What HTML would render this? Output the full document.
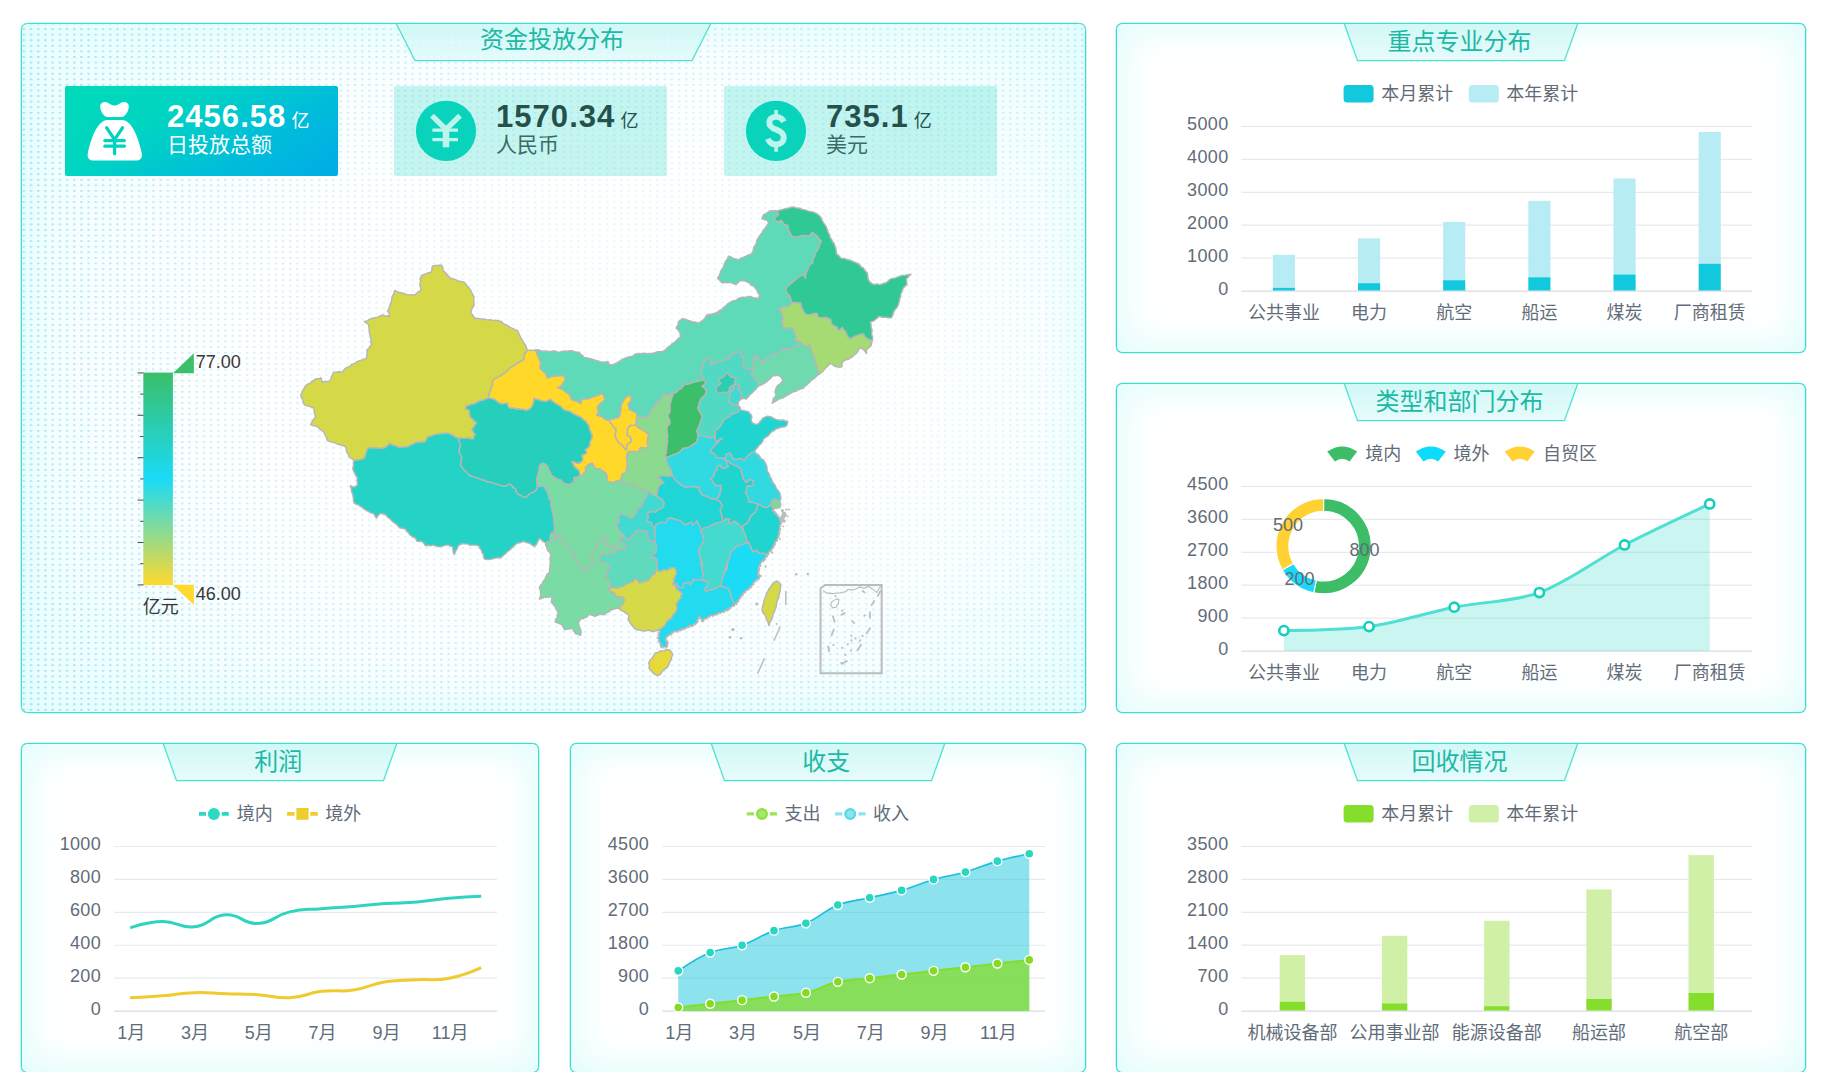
<!DOCTYPE html>
<html lang="zh"><head><meta charset="utf-8"><title>资金投放分布</title>
<style>
html,body{margin:0;padding:0;background:#fff;}
body{width:1843px;height:1072px;overflow:hidden;position:relative;font-family:"Liberation Sans","Noto Sans CJK SC",sans-serif;}
.panel{position:absolute;box-sizing:border-box;border:1px solid #3cdecc;border-radius:6.5px;background:#fff;box-shadow:inset 0 0 38px 6px #e0fdfc,0 0 0 .3px #3cdecc;overflow:hidden;}
.ttl{position:absolute;top:0;height:38px;}
.ttl span{position:absolute;left:0;right:3px;top:0;height:38px;line-height:37px;text-align:center;font-size:24px;color:#1db9a6;white-space:nowrap;}
svg{position:absolute;left:0;top:0;overflow:visible;}
svg text{font-family:"Liberation Sans","Noto Sans CJK SC",sans-serif;}
.card{position:absolute;top:86px;width:273px;height:90px;border-radius:2px;}
.num{position:absolute;left:102px;top:11px;font-size:31px;font-weight:bold;line-height:40px;white-space:nowrap;letter-spacing:1.05px}
.num small{font-size:18px;font-weight:normal;letter-spacing:0;margin-left:5px;}
.lab{position:absolute;left:102px;top:44px;font-size:21px;line-height:30px;white-space:nowrap;}
</style></head><body>

<div class="panel" id="p1" style="left:21.0px;top:23.0px;width:1065.0px;height:690.0px;background:radial-gradient(ellipse 60% 64% at 52% 50%,#fff 0%,#fff 52%,#fafeff 72%,#f3fefe 90%,#eefefe 100%)"></div>
<div class="panel" id="p2" style="left:1116.0px;top:23.0px;width:690.0px;height:330.0px"></div>
<div class="panel" id="p3" style="left:1116.0px;top:383.0px;width:690.0px;height:330.0px"></div>
<div class="panel" id="p4" style="left:21.0px;top:743.0px;width:517.5px;height:330.0px"></div>
<div class="panel" id="p5" style="left:569.5px;top:743.0px;width:516.5px;height:330.0px"></div>
<div class="panel" id="p6" style="left:1116.0px;top:743.0px;width:690.0px;height:330.0px"></div>
<svg width="1063" height="688" viewBox="0 0 1063 688" style="position:absolute;left:22px;top:24px;border-radius:5.5px;overflow:hidden">
<defs>
<pattern id="dots" x="0.6" y="4.2" width="7.2" height="5.58" patternUnits="userSpaceOnUse"><rect x="0" y="0" width="2.5" height="1.7" rx=".8" fill="#7fd9f6"/></pattern>
<linearGradient id="dmh" x1="0" x2="1" y1="0" y2="0"><stop offset="0" stop-color="#fff" stop-opacity=".7"/><stop offset=".12" stop-color="#fff" stop-opacity=".45"/><stop offset=".3" stop-color="#fff" stop-opacity=".16"/><stop offset=".5" stop-color="#fff" stop-opacity="0"/><stop offset=".85" stop-color="#fff" stop-opacity=".04"/><stop offset="1" stop-color="#fff" stop-opacity=".2"/></linearGradient>
<linearGradient id="dmv" x1="0" x2="0" y1="0" y2="1"><stop offset="0" stop-color="#fff" stop-opacity=".38"/><stop offset=".2" stop-color="#fff" stop-opacity=".12"/><stop offset=".5" stop-color="#fff" stop-opacity="0"/><stop offset=".8" stop-color="#fff" stop-opacity=".12"/><stop offset="1" stop-color="#fff" stop-opacity=".5"/></linearGradient>
<mask id="dmask"><rect width="1063" height="688" fill="#fff" fill-opacity=".17"/><rect width="1063" height="688" fill="url(#dmh)"/><rect width="1063" height="688" fill="url(#dmv)"/></mask>
</defs>
<rect width="1063" height="688" fill="url(#dots)" mask="url(#dmask)"/>
</svg>
<div style="position:absolute;left:21.0px;top:23.0px;width:1065.0px;height:40px"><div class="ttl" style="left:375.0px;width:315.0px"><svg width="315.0" height="40"><defs><linearGradient id="tg_资金投放分布" x1="0" x2="0" y1="0" y2="1"><stop offset="0" stop-color="#cdf7f5"/><stop offset="1" stop-color="#e2fbfa"/></linearGradient></defs><polygon points="0.5,1 314.5,1 296.0,37.6 19.0,37.6" fill="url(#tg_资金投放分布)" fill-opacity=".85" stroke="none"/><polyline points="0.3,0.8 19.0,37.6 296.0,37.6 314.7,0.8" fill="none" stroke="#4fe2d2" stroke-width="1.3" stroke-linejoin="miter"/></svg><span style="line-height:34px">资金投放分布</span></div></div>
<div style="position:absolute;left:1116.0px;top:23.0px;width:690.0px;height:40px"><div class="ttl" style="left:228.0px;width:234.0px"><svg width="234.0" height="40"><defs><linearGradient id="tg_重点专业分布" x1="0" x2="0" y1="0" y2="1"><stop offset="0" stop-color="#cdf7f5"/><stop offset="1" stop-color="#e2fbfa"/></linearGradient></defs><polygon points="0.5,1 233.5,1 220.5,37.6 13.5,37.6" fill="url(#tg_重点专业分布)" fill-opacity=".85" stroke="none"/><polyline points="0.3,0.8 13.5,37.6 220.5,37.6 233.7,0.8" fill="none" stroke="#4fe2d2" stroke-width="1.3" stroke-linejoin="miter"/></svg><span style="line-height:37px">重点专业分布</span></div></div>
<div style="position:absolute;left:1116.0px;top:383.0px;width:690.0px;height:40px"><div class="ttl" style="left:228.0px;width:234.0px"><svg width="234.0" height="40"><defs><linearGradient id="tg_类型和部门分布" x1="0" x2="0" y1="0" y2="1"><stop offset="0" stop-color="#cdf7f5"/><stop offset="1" stop-color="#e2fbfa"/></linearGradient></defs><polygon points="0.5,1 233.5,1 220.5,37.6 13.5,37.6" fill="url(#tg_类型和部门分布)" fill-opacity=".85" stroke="none"/><polyline points="0.3,0.8 13.5,37.6 220.5,37.6 233.7,0.8" fill="none" stroke="#4fe2d2" stroke-width="1.3" stroke-linejoin="miter"/></svg><span style="line-height:37px">类型和部门分布</span></div></div>
<div style="position:absolute;left:21.0px;top:743.0px;width:517.5px;height:40px"><div class="ttl" style="left:141.8px;width:234.0px"><svg width="234.0" height="40"><defs><linearGradient id="tg_利润" x1="0" x2="0" y1="0" y2="1"><stop offset="0" stop-color="#cdf7f5"/><stop offset="1" stop-color="#e2fbfa"/></linearGradient></defs><polygon points="0.5,1 233.5,1 220.5,37.6 13.5,37.6" fill="url(#tg_利润)" fill-opacity=".85" stroke="none"/><polyline points="0.3,0.8 13.5,37.6 220.5,37.6 233.7,0.8" fill="none" stroke="#4fe2d2" stroke-width="1.3" stroke-linejoin="miter"/></svg><span style="line-height:37px">利润</span></div></div>
<div style="position:absolute;left:569.5px;top:743.0px;width:516.5px;height:40px"><div class="ttl" style="left:141.2px;width:234.0px"><svg width="234.0" height="40"><defs><linearGradient id="tg_收支" x1="0" x2="0" y1="0" y2="1"><stop offset="0" stop-color="#cdf7f5"/><stop offset="1" stop-color="#e2fbfa"/></linearGradient></defs><polygon points="0.5,1 233.5,1 220.5,37.6 13.5,37.6" fill="url(#tg_收支)" fill-opacity=".85" stroke="none"/><polyline points="0.3,0.8 13.5,37.6 220.5,37.6 233.7,0.8" fill="none" stroke="#4fe2d2" stroke-width="1.3" stroke-linejoin="miter"/></svg><span style="line-height:37px">收支</span></div></div>
<div style="position:absolute;left:1116.0px;top:743.0px;width:690.0px;height:40px"><div class="ttl" style="left:228.0px;width:234.0px"><svg width="234.0" height="40"><defs><linearGradient id="tg_回收情况" x1="0" x2="0" y1="0" y2="1"><stop offset="0" stop-color="#cdf7f5"/><stop offset="1" stop-color="#e2fbfa"/></linearGradient></defs><polygon points="0.5,1 233.5,1 220.5,37.6 13.5,37.6" fill="url(#tg_回收情况)" fill-opacity=".85" stroke="none"/><polyline points="0.3,0.8 13.5,37.6 220.5,37.6 233.7,0.8" fill="none" stroke="#4fe2d2" stroke-width="1.3" stroke-linejoin="miter"/></svg><span style="line-height:37px">回收情况</span></div></div>

<div class="card" style="left:65px;background:linear-gradient(146deg,#00dab9 0%,#00d5c1 33%,#00bed9 67%,#00ace8 100%);color:#fff">
<svg width="273" height="90" viewBox="65 86 273 90"><g fill="#fff">
<path d="M100.2 106.5c0-3.2 2.3-4.8 5.2-4.6 3.2.3 5.6 3.6 9.1 3.6s5.900-3.3 9.100-3.600c2.900-.2 5.200 1.400 5.200 4.600 0 4.200-3.500 10.600-7.200 10.600h-14.200c-3.700 0-7.200-6.400-7.200-10.600z"/>
<path d="M107.500 120h14.600c9.500 0 16.500 17.500 19.700 33.500 .9 4.500-1.600 7-5.600 7h-42.800c-4 0-6.500-2.500-5.600-7 3.200-16 10.200-33.500 19.700-33.500z"/></g>
<g fill="none" stroke="#02d2c0" stroke-width="3.3" stroke-linecap="round" stroke-linejoin="round"><path d="M106.700 127.800L114.600 139.600L122.500 127.800M114.600 139.600V153.800M104.800 140.600H124.400M104.800 146.200H124.400"/></g></svg>
<div class="num">2456.58<small>亿</small></div><div class="lab">日投放总额</div></div>

<div class="card" style="left:394px;background:rgba(30,215,195,.255);color:#25514c">
<svg width="273" height="90"><circle cx="52" cy="44.900" r="30.1" fill="#0ad3bb"/><g fill="none" stroke="#bdf4ee" stroke-width="5.2" stroke-linejoin="miter"><path d="M38 29.600L52 43.500L66 29.600" stroke-width="5.400"/><path d="M52 41V61.300" stroke-width="6.500"/><path d="M38.400 44.200H64M38.400 53.700H64" stroke-width="3.300"/></g></svg>
<div class="num">1570.34<small>亿</small></div><div class="lab" style="color:#3a6b66">人民币</div></div>
<div class="card" style="left:724px;background:rgba(30,215,195,.255);color:#25514c">
<svg width="273" height="90"><circle cx="52" cy="44.900" r="30.1" fill="#0ad3bb"/><g fill="none" stroke="#bdf4ee"><path d="M59.800 35.800C58.400 32.600 55.600 30.900 52.100 30.900 48.300 30.900 45.300 33 45.300 36.700 45.300 40.700 48.500 42.200 52.100 43.600 56.200 45.200 59.800 47 59.800 51.300 59.800 55.800 56.300 58.500 52.100 58.500 48.300 58.500 45.400 56.600 43.800 52.900" stroke-width="5.900"/><path d="M52.100 24V30M52.100 59.500V65.800" stroke-width="3.600"/></g></svg>
<div class="num">735.1<small>亿</small></div><div class="lab" style="color:#3a6b66">美元</div></div>
<svg width="1843" height="1072" viewBox="0 0 1843 1072"><g>
<line x1="1241.3" x2="1752.3" y1="291.10" y2="291.10" stroke="#d9dce0" stroke-width="1.2"/>
<text x="1228.5" y="294.8" font-size="18" text-anchor="end" fill="#626c78" letter-spacing=".35">0</text>
<line x1="1241.3" x2="1752.3" y1="258.16" y2="258.16" stroke="#e6e9ed" stroke-width="1.2"/>
<text x="1228.5" y="261.9" font-size="18" text-anchor="end" fill="#626c78" letter-spacing=".35">1000</text>
<line x1="1241.3" x2="1752.3" y1="225.22" y2="225.22" stroke="#e6e9ed" stroke-width="1.2"/>
<text x="1228.5" y="228.9" font-size="18" text-anchor="end" fill="#626c78" letter-spacing=".35">2000</text>
<line x1="1241.3" x2="1752.3" y1="192.28" y2="192.28" stroke="#e6e9ed" stroke-width="1.2"/>
<text x="1228.5" y="196.0" font-size="18" text-anchor="end" fill="#626c78" letter-spacing=".35">3000</text>
<line x1="1241.3" x2="1752.3" y1="159.34" y2="159.34" stroke="#e6e9ed" stroke-width="1.2"/>
<text x="1228.5" y="163.0" font-size="18" text-anchor="end" fill="#626c78" letter-spacing=".35">4000</text>
<line x1="1241.3" x2="1752.3" y1="126.40" y2="126.40" stroke="#e6e9ed" stroke-width="1.2"/>
<text x="1228.5" y="130.1" font-size="18" text-anchor="end" fill="#626c78" letter-spacing=".35">5000</text>
<text x="1283.9" y="318.7" font-size="18" text-anchor="middle" fill="#626c78" >公共事业</text>
<text x="1369.0" y="318.7" font-size="18" text-anchor="middle" fill="#626c78" >电力</text>
<text x="1454.2" y="318.7" font-size="18" text-anchor="middle" fill="#626c78" >航空</text>
<text x="1539.4" y="318.7" font-size="18" text-anchor="middle" fill="#626c78" >船运</text>
<text x="1624.5" y="318.7" font-size="18" text-anchor="middle" fill="#626c78" >煤炭</text>
<text x="1709.7" y="318.7" font-size="18" text-anchor="middle" fill="#626c78" >厂商租赁</text>
<rect x="1272.81" y="254.87" width="22.14" height="32.94" fill="#b7ecf4"/>
<rect x="1272.81" y="287.81" width="22.14" height="2.69" fill="#12c8dc"/>
<rect x="1357.98" y="238.40" width="22.14" height="44.80" fill="#b7ecf4"/>
<rect x="1357.98" y="283.19" width="22.14" height="7.31" fill="#12c8dc"/>
<rect x="1443.14" y="221.93" width="22.14" height="58.30" fill="#b7ecf4"/>
<rect x="1443.14" y="280.23" width="22.14" height="10.27" fill="#12c8dc"/>
<rect x="1528.31" y="200.84" width="22.14" height="76.42" fill="#b7ecf4"/>
<rect x="1528.31" y="277.27" width="22.14" height="13.23" fill="#12c8dc"/>
<rect x="1613.48" y="178.45" width="22.14" height="96.02" fill="#b7ecf4"/>
<rect x="1613.48" y="274.47" width="22.14" height="16.03" fill="#12c8dc"/>
<rect x="1698.64" y="132.00" width="22.14" height="131.76" fill="#b7ecf4"/>
<rect x="1698.64" y="263.76" width="22.14" height="26.74" fill="#12c8dc"/>
<rect x="1343.6" y="85.1" width="30" height="17.4" rx="3.5" fill="#12c8dc"/>
<text x="1381.2" y="99.7" font-size="18" text-anchor="start" fill="#626c78" >本月累计</text>
<rect x="1468.8" y="85.1" width="30" height="17.4" rx="3.5" fill="#b7ecf4"/>
<text x="1506.2" y="99.7" font-size="18" text-anchor="start" fill="#626c78" >本年累计</text>
</g>
<g>
<line x1="1241.3" x2="1752.3" y1="1011.10" y2="1011.10" stroke="#d9dce0" stroke-width="1.2"/>
<text x="1228.5" y="1014.8" font-size="18" text-anchor="end" fill="#626c78" letter-spacing=".35">0</text>
<line x1="1241.3" x2="1752.3" y1="978.16" y2="978.16" stroke="#e6e9ed" stroke-width="1.2"/>
<text x="1228.5" y="981.9" font-size="18" text-anchor="end" fill="#626c78" letter-spacing=".35">700</text>
<line x1="1241.3" x2="1752.3" y1="945.22" y2="945.22" stroke="#e6e9ed" stroke-width="1.2"/>
<text x="1228.5" y="948.9" font-size="18" text-anchor="end" fill="#626c78" letter-spacing=".35">1400</text>
<line x1="1241.3" x2="1752.3" y1="912.28" y2="912.28" stroke="#e6e9ed" stroke-width="1.2"/>
<text x="1228.5" y="916.0" font-size="18" text-anchor="end" fill="#626c78" letter-spacing=".35">2100</text>
<line x1="1241.3" x2="1752.3" y1="879.34" y2="879.34" stroke="#e6e9ed" stroke-width="1.2"/>
<text x="1228.5" y="883.0" font-size="18" text-anchor="end" fill="#626c78" letter-spacing=".35">2800</text>
<line x1="1241.3" x2="1752.3" y1="846.40" y2="846.40" stroke="#e6e9ed" stroke-width="1.2"/>
<text x="1228.5" y="850.1" font-size="18" text-anchor="end" fill="#626c78" letter-spacing=".35">3500</text>
<text x="1292.4" y="1038.7" font-size="18" text-anchor="middle" fill="#626c78" >机械设备部</text>
<text x="1394.6" y="1038.7" font-size="18" text-anchor="middle" fill="#626c78" >公用事业部</text>
<text x="1496.8" y="1038.7" font-size="18" text-anchor="middle" fill="#626c78" >能源设备部</text>
<text x="1599.0" y="1038.7" font-size="18" text-anchor="middle" fill="#626c78" >船运部</text>
<text x="1701.2" y="1038.7" font-size="18" text-anchor="middle" fill="#626c78" >航空部</text>
<rect x="1279.70" y="955.10" width="25.40" height="46.59" fill="#d0f0a8"/>
<rect x="1279.70" y="1001.69" width="25.40" height="8.81" fill="#86de2c"/>
<rect x="1381.90" y="935.81" width="25.40" height="67.53" fill="#d0f0a8"/>
<rect x="1381.90" y="1003.34" width="25.40" height="7.16" fill="#86de2c"/>
<rect x="1484.10" y="920.75" width="25.40" height="85.41" fill="#d0f0a8"/>
<rect x="1484.10" y="1006.16" width="25.40" height="4.34" fill="#86de2c"/>
<rect x="1586.30" y="889.46" width="25.40" height="109.50" fill="#d0f0a8"/>
<rect x="1586.30" y="998.96" width="25.40" height="11.54" fill="#86de2c"/>
<rect x="1688.50" y="855.11" width="25.40" height="137.88" fill="#d0f0a8"/>
<rect x="1688.50" y="992.98" width="25.40" height="17.52" fill="#86de2c"/>
<rect x="1343.6" y="805.1" width="30" height="17.4" rx="3.5" fill="#86de2c"/>
<text x="1381.2" y="819.7" font-size="18" text-anchor="start" fill="#626c78" >本月累计</text>
<rect x="1468.8" y="805.1" width="30" height="17.4" rx="3.5" fill="#d0f0a8"/>
<text x="1506.2" y="819.7" font-size="18" text-anchor="start" fill="#626c78" >本年累计</text>
</g>
<line x1="1241.3" x2="1752.3" y1="651.10" y2="651.10" stroke="#d9dce0" stroke-width="1.2"/>
<text x="1228.5" y="654.8" font-size="18" text-anchor="end" fill="#626c78" letter-spacing=".35">0</text>
<line x1="1241.3" x2="1752.3" y1="618.16" y2="618.16" stroke="#e6e9ed" stroke-width="1.2"/>
<text x="1228.5" y="621.9" font-size="18" text-anchor="end" fill="#626c78" letter-spacing=".35">900</text>
<line x1="1241.3" x2="1752.3" y1="585.22" y2="585.22" stroke="#e6e9ed" stroke-width="1.2"/>
<text x="1228.5" y="588.9" font-size="18" text-anchor="end" fill="#626c78" letter-spacing=".35">1800</text>
<line x1="1241.3" x2="1752.3" y1="552.28" y2="552.28" stroke="#e6e9ed" stroke-width="1.2"/>
<text x="1228.5" y="556.0" font-size="18" text-anchor="end" fill="#626c78" letter-spacing=".35">2700</text>
<line x1="1241.3" x2="1752.3" y1="519.34" y2="519.34" stroke="#e6e9ed" stroke-width="1.2"/>
<text x="1228.5" y="523.0" font-size="18" text-anchor="end" fill="#626c78" letter-spacing=".35">3600</text>
<line x1="1241.3" x2="1752.3" y1="486.40" y2="486.40" stroke="#e6e9ed" stroke-width="1.2"/>
<text x="1228.5" y="490.1" font-size="18" text-anchor="end" fill="#626c78" letter-spacing=".35">4500</text>
<text x="1283.9" y="678.7" font-size="18" text-anchor="middle" fill="#626c78" >公共事业</text>
<text x="1369.0" y="678.7" font-size="18" text-anchor="middle" fill="#626c78" >电力</text>
<text x="1454.2" y="678.7" font-size="18" text-anchor="middle" fill="#626c78" >航空</text>
<text x="1539.4" y="678.7" font-size="18" text-anchor="middle" fill="#626c78" >船运</text>
<text x="1624.5" y="678.7" font-size="18" text-anchor="middle" fill="#626c78" >煤炭</text>
<text x="1709.7" y="678.7" font-size="18" text-anchor="middle" fill="#626c78" >厂商租赁</text>
<path d="M1283.88 630.60 C1283.88 630.60 1342.13 630.28 1369.05 626.58 C1396.63 622.78 1426.82 612.66 1454.22 607.18 C1481.32 601.76 1513.78 601.89 1539.38 592.54 C1568.29 581.98 1596.87 559.36 1624.55 544.96 C1651.37 531.01 1709.72 503.97 1709.72 503.97 L1709.72 651.10 L1283.88 651.10 Z" fill="#4fded0" fill-opacity=".3"/>
<path d="M1283.88 630.60 C1283.88 630.60 1342.13 630.28 1369.05 626.58 C1396.63 622.78 1426.82 612.66 1454.22 607.18 C1481.32 601.76 1513.78 601.89 1539.38 592.54 C1568.29 581.98 1596.87 559.36 1624.55 544.96 C1651.37 531.01 1709.72 503.97 1709.72 503.97" fill="none" stroke="#4fe0d2" stroke-width="3"/>
<circle cx="1283.88" cy="630.60" r="4.6" fill="#fff" stroke="#14cfba" stroke-width="2.6"/>
<circle cx="1369.05" cy="626.58" r="4.6" fill="#fff" stroke="#14cfba" stroke-width="2.6"/>
<circle cx="1454.22" cy="607.18" r="4.6" fill="#fff" stroke="#14cfba" stroke-width="2.6"/>
<circle cx="1539.38" cy="592.54" r="4.6" fill="#fff" stroke="#14cfba" stroke-width="2.6"/>
<circle cx="1624.55" cy="544.96" r="4.6" fill="#fff" stroke="#14cfba" stroke-width="2.6"/>
<circle cx="1709.72" cy="503.97" r="4.6" fill="#fff" stroke="#14cfba" stroke-width="2.6"/>
<path d="M1323.60 498.40 A47.70 47.70 0 1 1 1313.68 592.76 L1316.36 580.14 A34.80 34.80 0 1 0 1323.60 511.30 Z" fill="#3dbd67" stroke="#fff" stroke-width="1.1"/>
<path d="M1313.68 592.76 A47.70 47.70 0 0 1 1282.29 569.95 L1293.46 563.50 A34.80 34.80 0 0 0 1316.36 580.14 Z" fill="#19d9f7" stroke="#fff" stroke-width="1.1"/>
<path d="M1282.29 569.95 A47.70 47.70 0 0 1 1323.60 498.40 L1323.60 511.30 A34.80 34.80 0 0 0 1293.46 563.50 Z" fill="#ffd133" stroke="#fff" stroke-width="1.1"/>
<text x="1364.6" y="555.7" font-size="18" text-anchor="middle" fill="#626c78" >800</text>
<text x="1299.4" y="584.8" font-size="18" text-anchor="middle" fill="#626c78" >200</text>
<text x="1287.9" y="530.8" font-size="18" text-anchor="middle" fill="#626c78" >500</text>
<path d="M1327.20 451.60 Q1342.20 441.20 1357.20 451.60 L1349.50 461.40 Q1342.20 456.20 1334.90 461.40 Z" fill="#3dbd67"/>
<text x="1365.2" y="459.7" font-size="18" text-anchor="start" fill="#626c78" >境内</text>
<path d="M1415.80 451.60 Q1430.80 441.20 1445.80 451.60 L1438.10 461.40 Q1430.80 456.20 1423.50 461.40 Z" fill="#0cdcfb"/>
<text x="1453.6" y="459.7" font-size="18" text-anchor="start" fill="#626c78" >境外</text>
<path d="M1504.80 451.60 Q1519.80 441.20 1534.80 451.60 L1527.10 461.40 Q1519.80 456.20 1512.50 461.40 Z" fill="#ffd133"/>
<text x="1543.0" y="459.7" font-size="18" text-anchor="start" fill="#626c78" >自贸区</text>
<line x1="114.2" x2="497.1" y1="1011.10" y2="1011.10" stroke="#d9dce0" stroke-width="1.2"/>
<text x="101.1" y="1014.8" font-size="18" text-anchor="end" fill="#626c78" letter-spacing=".35">0</text>
<line x1="114.2" x2="497.1" y1="978.18" y2="978.18" stroke="#e6e9ed" stroke-width="1.2"/>
<text x="101.1" y="981.9" font-size="18" text-anchor="end" fill="#626c78" letter-spacing=".35">200</text>
<line x1="114.2" x2="497.1" y1="945.26" y2="945.26" stroke="#e6e9ed" stroke-width="1.2"/>
<text x="101.1" y="949.0" font-size="18" text-anchor="end" fill="#626c78" letter-spacing=".35">400</text>
<line x1="114.2" x2="497.1" y1="912.34" y2="912.34" stroke="#e6e9ed" stroke-width="1.2"/>
<text x="101.1" y="916.0" font-size="18" text-anchor="end" fill="#626c78" letter-spacing=".35">600</text>
<line x1="114.2" x2="497.1" y1="879.42" y2="879.42" stroke="#e6e9ed" stroke-width="1.2"/>
<text x="101.1" y="883.1" font-size="18" text-anchor="end" fill="#626c78" letter-spacing=".35">800</text>
<line x1="114.2" x2="497.1" y1="846.50" y2="846.50" stroke="#e6e9ed" stroke-width="1.2"/>
<text x="101.1" y="850.2" font-size="18" text-anchor="end" fill="#626c78" letter-spacing=".35">1000</text>
<text x="131.2" y="1038.7" font-size="18" text-anchor="middle" fill="#626c78" >1月</text>
<text x="195.0" y="1038.7" font-size="18" text-anchor="middle" fill="#626c78" >3月</text>
<text x="258.8" y="1038.7" font-size="18" text-anchor="middle" fill="#626c78" >5月</text>
<text x="322.6" y="1038.7" font-size="18" text-anchor="middle" fill="#626c78" >7月</text>
<text x="386.4" y="1038.7" font-size="18" text-anchor="middle" fill="#626c78" >9月</text>
<text x="450.2" y="1038.7" font-size="18" text-anchor="middle" fill="#626c78" >11月</text>
<path d="M130.15 927.98 C130.15 927.98 146.06 921.68 162.06 921.39 C177.96 921.11 178.43 928.43 193.97 926.82 C210.34 925.14 209.68 915.64 225.88 914.81 C241.59 914.00 242.05 924.26 257.79 923.53 C273.96 922.78 273.28 915.66 289.70 911.85 C305.19 908.25 305.63 910.08 321.60 908.72 C337.54 907.36 337.57 907.69 353.51 906.41 C369.48 905.14 369.45 904.73 385.42 903.62 C401.36 902.51 401.42 903.32 417.33 901.97 C433.33 900.61 433.24 899.63 449.24 898.18 C465.15 896.75 481.15 896.21 481.15 896.21" fill="none" stroke="#2dd4bf" stroke-width="3" stroke-linejoin="round"/>
<path d="M130.15 997.77 C130.15 997.77 146.13 997.07 162.06 995.79 C178.04 994.51 177.98 993.20 193.97 992.66 C209.89 992.13 209.93 993.16 225.88 993.65 C241.83 994.15 241.87 993.61 257.79 994.64 C273.78 995.67 273.86 998.58 289.70 997.77 C305.77 996.94 305.50 993.30 321.60 991.35 C337.41 989.43 337.81 992.38 353.51 990.03 C369.72 987.61 369.23 984.39 385.42 981.80 C401.13 979.29 401.37 980.73 417.33 979.83 C433.28 978.92 433.69 981.15 449.24 978.18 C465.59 975.06 481.15 967.65 481.15 967.65" fill="none" stroke="#efcb2f" stroke-width="3" stroke-linejoin="round"/>
<path d="M199 813.9H206M221.800 813.9H228.800" stroke="#2dd9c3" stroke-width="3.6"/><circle cx="213.900" cy="813.9" r="6" fill="#2dd9c3"/>
<text x="236.8" y="819.8" font-size="18" text-anchor="start" fill="#626c78" >境内</text>
<path d="M287 813.9H294.500M310.200 813.9H317.800" stroke="#efcd2f" stroke-width="3.6"/><rect x="296.400" y="808.0" width="12.2" height="11.8" fill="#efcd2f"/>
<text x="325.3" y="819.8" font-size="18" text-anchor="start" fill="#626c78" >境外</text>
<line x1="662.3" x2="1045.2" y1="1011.10" y2="1011.10" stroke="#d9dce0" stroke-width="1.2"/>
<text x="649.2" y="1014.8" font-size="18" text-anchor="end" fill="#626c78" letter-spacing=".35">0</text>
<line x1="662.3" x2="1045.2" y1="978.18" y2="978.18" stroke="#e6e9ed" stroke-width="1.2"/>
<text x="649.2" y="981.9" font-size="18" text-anchor="end" fill="#626c78" letter-spacing=".35">900</text>
<line x1="662.3" x2="1045.2" y1="945.26" y2="945.26" stroke="#e6e9ed" stroke-width="1.2"/>
<text x="649.2" y="949.0" font-size="18" text-anchor="end" fill="#626c78" letter-spacing=".35">1800</text>
<line x1="662.3" x2="1045.2" y1="912.34" y2="912.34" stroke="#e6e9ed" stroke-width="1.2"/>
<text x="649.2" y="916.0" font-size="18" text-anchor="end" fill="#626c78" letter-spacing=".35">2700</text>
<line x1="662.3" x2="1045.2" y1="879.42" y2="879.42" stroke="#e6e9ed" stroke-width="1.2"/>
<text x="649.2" y="883.1" font-size="18" text-anchor="end" fill="#626c78" letter-spacing=".35">3600</text>
<line x1="662.3" x2="1045.2" y1="846.50" y2="846.50" stroke="#e6e9ed" stroke-width="1.2"/>
<text x="649.2" y="850.2" font-size="18" text-anchor="end" fill="#626c78" letter-spacing=".35">4500</text>
<text x="679.3" y="1038.7" font-size="18" text-anchor="middle" fill="#626c78" >1月</text>
<text x="743.1" y="1038.7" font-size="18" text-anchor="middle" fill="#626c78" >3月</text>
<text x="806.9" y="1038.7" font-size="18" text-anchor="middle" fill="#626c78" >5月</text>
<text x="870.7" y="1038.7" font-size="18" text-anchor="middle" fill="#626c78" >7月</text>
<text x="934.5" y="1038.7" font-size="18" text-anchor="middle" fill="#626c78" >9月</text>
<text x="998.3" y="1038.7" font-size="18" text-anchor="middle" fill="#626c78" >11月</text>
<path d="M678.25 970.86 C678.25 970.86 698.35 957.32 710.16 952.58 C720.68 948.36 731.29 948.97 742.07 945.26 C753.63 941.29 762.42 934.60 773.98 930.63 C784.76 926.92 795.37 927.53 805.89 923.31 C817.70 918.57 825.98 909.77 837.80 905.02 C848.31 900.80 858.54 900.27 869.70 897.71 C880.87 895.15 890.61 893.55 901.61 890.39 C912.95 887.14 922.18 882.67 933.52 879.42 C944.52 876.27 954.43 875.26 965.43 872.10 C976.77 868.86 986.00 864.38 997.34 861.13 C1008.34 857.98 1029.25 853.82 1029.25 853.82 L1029.25 1011.10 L678.25 1011.10 Z" fill="#1bc8dc" fill-opacity=".5"/>
<path d="M678.25 970.86 C678.25 970.86 698.35 957.32 710.16 952.58 C720.68 948.36 731.29 948.97 742.07 945.26 C753.63 941.29 762.42 934.60 773.98 930.63 C784.76 926.92 795.37 927.53 805.89 923.31 C817.70 918.57 825.98 909.77 837.80 905.02 C848.31 900.80 858.54 900.27 869.70 897.71 C880.87 895.15 890.61 893.55 901.61 890.39 C912.95 887.14 922.18 882.67 933.52 879.42 C944.52 876.27 954.43 875.26 965.43 872.10 C976.77 868.86 986.00 864.38 997.34 861.13 C1008.34 857.98 1029.25 853.82 1029.25 853.82" fill="none" stroke="#1bbfdc" stroke-width="1.6"/>
<path d="M678.25 1007.44 C678.25 1007.44 698.99 1005.06 710.16 1003.78 C721.33 1002.50 730.90 1001.41 742.07 1000.13 C753.24 998.85 762.81 997.75 773.98 996.47 C785.15 995.19 795.00 995.31 805.89 992.81 C817.33 990.19 826.35 984.46 837.80 981.84 C848.69 979.34 858.54 979.46 869.70 978.18 C880.87 976.90 890.44 975.80 901.61 974.52 C912.78 973.24 922.35 972.14 933.52 970.86 C944.69 969.58 954.26 968.49 965.43 967.21 C976.60 965.93 986.17 964.83 997.34 963.55 C1008.51 962.27 1029.25 959.89 1029.25 959.89 L1029.25 1011.10 L678.25 1011.10 Z" fill="#84dc22" fill-opacity=".72"/>
<path d="M678.25 1007.44 C678.25 1007.44 698.99 1005.06 710.16 1003.78 C721.33 1002.50 730.90 1001.41 742.07 1000.13 C753.24 998.85 762.81 997.75 773.98 996.47 C785.15 995.19 795.00 995.31 805.89 992.81 C817.33 990.19 826.35 984.46 837.80 981.84 C848.69 979.34 858.54 979.46 869.70 978.18 C880.87 976.90 890.44 975.80 901.61 974.52 C912.78 973.24 922.35 972.14 933.52 970.86 C944.69 969.58 954.26 968.49 965.43 967.21 C976.60 965.93 986.17 964.83 997.34 963.55 C1008.51 962.27 1029.25 959.89 1029.25 959.89" fill="none" stroke="#84dc2b" stroke-width="2"/>
<circle cx="678.25" cy="970.86" r="4.5" fill="#27d7c0" stroke="#fff" stroke-width="1.4"/>
<circle cx="710.16" cy="952.58" r="4.5" fill="#27d7c0" stroke="#fff" stroke-width="1.4"/>
<circle cx="742.07" cy="945.26" r="4.5" fill="#27d7c0" stroke="#fff" stroke-width="1.4"/>
<circle cx="773.98" cy="930.63" r="4.5" fill="#27d7c0" stroke="#fff" stroke-width="1.4"/>
<circle cx="805.89" cy="923.31" r="4.5" fill="#27d7c0" stroke="#fff" stroke-width="1.4"/>
<circle cx="837.80" cy="905.02" r="4.5" fill="#27d7c0" stroke="#fff" stroke-width="1.4"/>
<circle cx="869.70" cy="897.71" r="4.5" fill="#27d7c0" stroke="#fff" stroke-width="1.4"/>
<circle cx="901.61" cy="890.39" r="4.5" fill="#27d7c0" stroke="#fff" stroke-width="1.4"/>
<circle cx="933.52" cy="879.42" r="4.5" fill="#27d7c0" stroke="#fff" stroke-width="1.4"/>
<circle cx="965.43" cy="872.10" r="4.5" fill="#27d7c0" stroke="#fff" stroke-width="1.4"/>
<circle cx="997.34" cy="861.13" r="4.5" fill="#27d7c0" stroke="#fff" stroke-width="1.4"/>
<circle cx="1029.25" cy="853.82" r="4.5" fill="#27d7c0" stroke="#fff" stroke-width="1.4"/>
<circle cx="678.25" cy="1007.44" r="4.5" fill="#84dc22" stroke="#fff" stroke-width="1.4"/>
<circle cx="710.16" cy="1003.78" r="4.5" fill="#84dc22" stroke="#fff" stroke-width="1.4"/>
<circle cx="742.07" cy="1000.13" r="4.5" fill="#84dc22" stroke="#fff" stroke-width="1.4"/>
<circle cx="773.98" cy="996.47" r="4.5" fill="#84dc22" stroke="#fff" stroke-width="1.4"/>
<circle cx="805.89" cy="992.81" r="4.5" fill="#84dc22" stroke="#fff" stroke-width="1.4"/>
<circle cx="837.80" cy="981.84" r="4.5" fill="#84dc22" stroke="#fff" stroke-width="1.4"/>
<circle cx="869.70" cy="978.18" r="4.5" fill="#84dc22" stroke="#fff" stroke-width="1.4"/>
<circle cx="901.61" cy="974.52" r="4.5" fill="#84dc22" stroke="#fff" stroke-width="1.4"/>
<circle cx="933.52" cy="970.86" r="4.5" fill="#84dc22" stroke="#fff" stroke-width="1.4"/>
<circle cx="965.43" cy="967.21" r="4.5" fill="#84dc22" stroke="#fff" stroke-width="1.4"/>
<circle cx="997.34" cy="963.55" r="4.5" fill="#84dc22" stroke="#fff" stroke-width="1.4"/>
<circle cx="1029.25" cy="959.89" r="4.5" fill="#84dc22" stroke="#fff" stroke-width="1.4"/>
<path d="M746.800 813.9H753.900M769.900 813.9H776.900" stroke="#9be34f" stroke-width="3.4"/><circle cx="762" cy="813.9" r="4.8" fill="#a6e66a" stroke="#8fe03f" stroke-width="2.4"/>
<text x="784.6" y="819.8" font-size="18" text-anchor="start" fill="#626c78" >支出</text>
<path d="M835 813.9H842.300M858.400 813.9H865.600" stroke="#8fe3ee" stroke-width="3.4"/><circle cx="850.200" cy="813.9" r="4.8" fill="#8de5ef" stroke="#55d9e8" stroke-width="2.4"/>
<text x="873.1" y="819.8" font-size="18" text-anchor="start" fill="#626c78" >收入</text></svg>
<svg width="1843" height="1072" viewBox="0 0 1843 1072" style="position:absolute;left:0;top:0"><g stroke="#b6b6b6" stroke-width="1.45" stroke-linejoin="round">
<path d="M773.4 508.3 L772.3 510.2 L774.4 512.7 L775.9 514.4 L777.2 515.5 L778.6 517.0 L779.8 518.8 L780.6 522.5 L779.8 525.8 L779.5 528.7 L779.2 531.6 L778.5 533.7 L778.3 536.3 L777.5 538.6 L776.1 540.6 L774.8 542.4 L774.0 544.5 L773.2 546.5 L772.0 548.7 L770.5 550.3 L768.6 552.2 L767.0 555.0" fill="none" stroke="#bdbdbd" stroke-width="3.4" stroke-dasharray="2.5 1.2 4 0.8 1.5 1.6"/>
<path d="M767.0 555.0 L765.7 556.8 L764.6 558.5 L763.0 560.5 L761.1 562.0 L760.3 564.2 L758.8 566.6 L758.3 569.3 L758.3 572.1 L757.6 575.0 L760.0 576.3 L758.7 577.9 L756.6 579.5 L755.1 581.0 L753.1 582.9 L752.4 585.0 L750.4 586.8 L748.6 588.5 L747.2 589.7 L745.2 591.2 L743.4 592.7 L741.9 594.8 L740.3 596.6 L739.2 599.2 L737.6 600.8 L736.9 602.7 L735.3 604.1" fill="none" stroke="#bdbdbd" stroke-width="3.4" stroke-dasharray="2.5 1.2 4 0.8 1.5 1.6"/>
<path d="M660.4 628.8 L659.5 631.2 L659.5 633.5 L659.2 635.9 L658.3 638.1 L659.2 640.3 L660.1 642.8 L661.4 644.8 L661.8 646.9 L663.8 646.8 L665.9 646.9 L667.6 644.0 L666.7 641.8 L665.3 640.5 L665.8 638.0 L667.1 635.8 L670.1 634.3 L672.3 632.3 L674.3 631.1 L677.1 631.0 L679.3 630.0 L681.8 629.0 L683.9 628.8 L686.3 627.6 L689.2 626.0 L692.1 625.3 L694.5 623.9 L696.8 623.0 L697.2 620.5 L698.5 618.2 L699.1 616.0 L700.8 618.3 L702.6 620.6 L705.0 618.3 L707.4 617.3 L709.6 616.0 L711.9 615.2 L714.7 614.8 L716.6 613.6 L718.9 612.6 L721.5 612.4 L723.6 611.3 L726.1 610.1 L728.3 609.0 L730.1 607.6 L732.2 606.1 L734.1 604.9 L735.3 604.1" fill="none" stroke="#bdbdbd" stroke-width="3.4" stroke-dasharray="2.5 1.2 4 0.8 1.5 1.6"/>
<path d="M353.9 460.9 L352.4 458.9 L350.1 457.8 L348.7 456.3 L348.3 454.0 L346.5 451.5 L346.2 448.9 L345.5 446.8 L343.2 445.5 L340.8 445.1 L338.2 444.2 L336.0 443.6 L334.2 442.5 L331.4 442.1 L329.4 441.3 L327.3 440.4 L326.5 437.8 L325.2 435.1 L324.1 432.5 L322.0 430.6 L319.8 429.1 L317.8 427.0 L315.2 425.9 L312.8 425.7 L310.6 424.6 L312.0 421.8 L313.4 419.4 L315.4 417.4 L315.1 415.1 L314.3 412.6 L314.2 410.0 L313.8 407.9 L311.4 407.2 L308.7 406.1 L305.9 405.6 L304.3 404.7 L303.2 402.6 L302.9 399.6 L301.4 397.8 L300.8 395.1 L301.7 393.0 L302.5 390.7 L304.1 388.7 L305.1 386.4 L307.0 384.4 L309.9 383.5 L311.9 381.6 L313.8 380.1 L316.0 379.0 L318.9 378.8 L320.9 377.7 L321.5 380.0 L322.5 382.4 L324.6 381.5 L327.4 381.6 L329.7 380.9 L330.9 378.8 L331.5 376.6 L332.8 374.4 L333.6 372.1 L336.3 372.0 L339.5 371.8 L342.3 372.1 L343.6 370.3 L345.1 368.7 L347.1 367.4 L349.7 366.3 L351.8 364.2 L354.7 363.6 L356.6 361.8 L359.1 360.9 L362.0 359.9 L364.7 358.9 L366.9 357.9 L366.8 355.2 L367.1 352.8 L366.9 349.9 L368.9 348.3 L370.1 346.1 L371.7 344.4 L370.7 341.9 L371.3 339.5 L370.2 337.0 L370.1 334.9 L369.3 332.5 L369.1 329.6 L369.0 327.3 L368.5 324.5 L366.2 323.0 L364.2 321.4 L367.1 320.9 L369.6 319.3 L372.5 318.2 L375.0 317.6 L377.7 317.1 L380.4 315.7 L382.8 315.0 L385.0 316.1 L387.5 315.6 L389.9 316.6 L389.1 313.4 L387.5 311.1 L388.9 308.6 L389.7 306.3 L390.6 303.6 L391.6 301.0 L391.8 298.3 L392.7 295.7 L394.0 293.3 L394.7 290.4 L396.8 291.6 L399.3 292.5 L401.7 292.7 L404.2 293.6 L406.7 294.4 L409.4 294.9 L412.2 294.6 L414.5 295.2 L416.3 293.6 L418.4 291.9 L420.9 290.4 L420.6 287.9 L420.0 285.8 L420.0 283.2 L420.7 281.2 L420.1 278.6 L421.2 276.4 L423.2 274.6 L425.7 274.0 L428.4 272.7 L431.2 272.2 L431.8 270.2 L432.0 267.7 L432.8 265.9 L435.6 265.4 L438.4 265.3 L441.5 265.1 L442.8 267.2 L442.8 269.3 L443.9 271.4 L446.0 273.3 L447.9 275.7 L450.2 277.8 L452.1 278.8 L454.6 279.2 L456.5 280.1 L459.1 281.3 L462.1 281.6 L464.5 282.5 L465.9 284.2 L467.6 286.4 L469.2 288.1 L470.6 289.9 L471.6 292.4 L472.9 294.8 L474.0 296.8 L473.7 299.5 L474.0 302.3 L474.0 305.5 L472.4 307.9 L471.5 309.9 L470.8 312.7 L472.2 314.5 L473.4 316.2 L474.8 318.2 L477.3 318.3 L479.6 318.9 L482.4 319.0 L484.7 319.1 L487.5 319.9 L489.9 319.8 L492.6 320.4 L495.7 320.3 L498.1 320.8 L501.0 321.4 L502.6 322.9 L504.6 324.4 L506.9 325.1 L508.7 326.5 L510.6 327.6 L513.3 328.6 L514.9 329.6 L517.4 330.4 L518.6 332.9 L519.6 335.2 L520.6 337.6 L522.4 339.9 L523.3 342.2 L525.2 344.5 L526.2 347.1 L527.3 350.3 L526.0 352.2 L524.6 353.4 L524.2 356.8 L523.8 359.8 L521.7 360.9 L519.7 362.2 L517.6 363.2 L515.9 364.5 L513.5 365.8 L510.8 367.4 L508.7 369.3 L507.3 371.0 L505.4 372.5 L503.2 374.1 L500.9 375.6 L498.2 377.4 L495.5 378.3 L493.3 380.0 L492.4 382.0 L492.6 385.0 L491.2 387.3 L490.9 389.5 L490.1 391.6 L489.4 393.8 L489.0 396.3 L488.2 398.2 L485.7 399.2 L482.6 400.2 L480.2 400.7 L477.4 402.2 L475.5 403.2 L473.2 404.0 L470.8 404.5 L468.5 405.6 L466.3 406.2 L465.6 408.6 L467.9 409.6 L469.5 410.9 L469.6 414.1 L470.3 417.3 L472.3 418.9 L474.5 421.2 L476.7 422.8 L474.8 425.0 L473.6 427.2 L471.9 429.2 L473.4 432.1 L475.1 434.7 L473.9 436.4 L473.5 438.7 L471.3 439.0 L468.7 437.9 L466.3 438.4 L464.0 438.3 L461.2 438.0 L458.9 438.5 L458.1 438.1 L455.4 437.3 L453.5 435.7 L450.9 434.5 L448.6 433.3 L446.1 433.2 L443.2 433.4 L440.3 433.8 L437.5 434.1 L434.7 434.6 L432.4 435.5 L429.4 436.3 L427.2 437.3 L426.4 439.6 L424.8 442.0 L422.6 441.9 L419.9 442.2 L417.4 442.1 L415.3 442.8 L412.8 444.2 L410.2 445.4 L407.4 446.8 L404.5 447.1 L401.8 447.0 L399.4 447.6 L397.3 446.6 L394.5 445.6 L392.1 444.9 L389.9 443.6 L387.5 445.7 L385.2 447.6 L381.9 448.5 L378.8 448.4 L376.1 447.8 L373.4 448.2 L371.1 447.8 L368.5 447.6 L367.2 449.5 L366.4 452.0 L365.6 454.2 L365.2 456.6 L363.8 458.7 L361.3 459.4 L359.0 459.7 L356.1 460.3 L353.9 460.9Z" fill="#d5d947"/>
<path d="M353.9 460.9 L356.1 460.3 L359.0 459.7 L361.3 459.4 L363.8 458.7 L365.2 456.6 L365.6 454.2 L366.4 452.0 L367.2 449.5 L368.5 447.6 L371.1 447.8 L373.4 448.2 L376.1 447.8 L378.8 448.4 L381.9 448.5 L385.2 447.6 L387.5 445.7 L389.9 443.6 L392.1 444.9 L394.5 445.6 L397.3 446.6 L399.4 447.6 L401.8 447.0 L404.5 447.1 L407.4 446.8 L410.2 445.4 L412.8 444.2 L415.3 442.8 L417.4 442.1 L419.9 442.2 L422.6 441.9 L424.8 442.0 L426.4 439.6 L427.2 437.3 L429.4 436.3 L432.4 435.5 L434.7 434.6 L437.5 434.1 L440.3 433.8 L443.2 433.4 L446.1 433.2 L448.6 433.3 L450.9 434.5 L453.5 435.7 L455.4 437.3 L458.1 438.1 L458.9 438.5 L458.9 441.2 L460.2 443.4 L460.5 446.0 L459.6 448.5 L459.2 450.7 L459.7 453.1 L461.0 455.7 L462.1 457.9 L461.0 460.2 L460.8 462.8 L460.5 465.0 L461.9 467.2 L463.2 468.8 L464.8 470.7 L466.8 472.4 L468.7 474.6 L471.1 476.0 L473.9 476.9 L476.5 477.6 L479.0 478.3 L481.7 479.7 L484.5 480.2 L487.0 481.5 L489.1 482.3 L491.7 482.3 L493.9 483.3 L496.5 483.9 L499.2 485.2 L502.0 485.6 L504.4 486.3 L507.0 485.4 L509.2 483.9 L511.5 485.0 L513.2 487.5 L515.5 488.7 L516.3 491.6 L517.9 494.2 L520.4 495.0 L522.6 496.8 L525.0 497.4 L527.5 495.8 L529.8 493.4 L532.5 492.3 L535.3 491.0 L536.8 488.6 L537.4 486.0 L539.6 486.5 L541.9 485.8 L544.1 486.3 L545.8 489.2 L547.2 491.9 L548.2 494.4 L549.1 496.8 L549.6 499.8 L552.0 501.4 L550.4 503.8 L551.3 505.9 L552.0 508.6 L552.3 511.3 L553.1 514.0 L553.7 516.6 L553.6 519.7 L554.2 522.1 L554.0 524.6 L554.7 526.8 L554.4 529.2 L554.1 531.3 L554.4 533.1 L551.2 533.1 L550.4 536.3 L550.4 538.6 L549.6 541.1 L547.3 541.7 L545.7 543.0 L542.5 541.1 L541.1 539.6 L539.3 538.4 L537.7 541.9 L536.6 544.3 L534.5 546.6 L531.9 545.0 L529.8 543.4 L527.6 542.8 L525.6 542.4 L523.4 541.1 L521.6 542.3 L519.4 542.8 L517.1 543.4 L515.3 544.6 L513.6 546.7 L511.7 547.9 L510.0 549.8 L507.6 551.3 L506.0 553.2 L504.1 554.7 L502.6 556.0 L501.0 557.8 L498.0 557.8 L495.9 558.1 L492.8 558.8 L490.4 559.4 L487.8 559.6 L485.1 559.4 L483.7 557.5 L483.3 554.4 L481.9 552.3 L481.3 550.1 L479.7 548.0 L478.8 545.9 L475.5 545.1 L472.4 545.1 L469.7 545.2 L467.8 544.1 L465.4 543.9 L462.9 543.5 L460.5 544.3 L458.1 545.9 L457.6 548.1 L456.2 550.2 L455.0 552.7 L454.2 554.7 L453.2 552.4 L452.9 549.5 L452.6 546.7 L450.3 546.3 L448.6 545.1 L446.1 545.1 L444.0 545.6 L441.6 546.6 L439.1 546.7 L437.0 546.6 L434.8 545.6 L432.8 545.1 L430.3 545.9 L428.0 545.3 L425.6 545.9 L423.9 543.3 L421.7 541.2 L419.4 541.1 L416.9 541.2 L415.3 538.0 L412.2 536.8 L409.8 534.8 L408.7 533.0 L406.7 531.3 L405.8 529.3 L403.5 528.5 L401.8 528.2 L399.4 527.7 L397.5 525.4 L395.4 523.5 L393.1 522.1 L391.3 520.3 L389.5 518.5 L387.4 517.0 L386.0 515.0 L383.3 514.0 L380.4 513.4 L378.1 515.5 L376.4 518.2 L375.1 516.1 L374.1 514.2 L371.6 513.1 L369.1 511.8 L366.8 510.6 L364.5 509.4 L362.7 507.7 L360.3 506.4 L358.2 504.7 L356.2 504.2 L354.2 503.1 L353.4 500.3 L353.3 497.5 L352.7 494.4 L351.6 491.4 L351.2 488.4 L350.3 485.7 L353.4 487.2 L355.5 486.3 L357.4 484.9 L357.3 482.5 L356.9 480.4 L357.4 477.7 L355.7 475.4 L354.8 473.3 L353.5 470.9 L352.7 468.2 L353.6 465.7 L353.3 463.2 L353.9 460.9Z" fill="#25d2c6"/>
<path d="M488.2 398.2 L485.7 399.2 L482.6 400.2 L480.2 400.7 L477.4 402.2 L475.5 403.2 L473.2 404.0 L470.8 404.5 L468.5 405.6 L466.3 406.2 L465.6 408.6 L467.9 409.6 L469.5 410.9 L469.6 414.1 L470.3 417.3 L472.3 418.9 L474.5 421.2 L476.7 422.8 L474.8 425.0 L473.6 427.2 L471.9 429.2 L473.4 432.1 L475.1 434.7 L473.9 436.4 L473.5 438.7 L471.3 439.0 L468.7 437.9 L466.3 438.4 L464.0 438.3 L461.2 438.0 L458.9 438.5 L458.9 441.2 L460.2 443.4 L460.5 446.0 L459.6 448.5 L459.2 450.7 L459.7 453.1 L461.0 455.7 L462.1 457.9 L461.0 460.2 L460.8 462.8 L460.5 465.0 L461.9 467.2 L463.2 468.8 L464.8 470.7 L466.8 472.4 L468.7 474.6 L471.1 476.0 L473.9 476.9 L476.5 477.6 L479.0 478.3 L481.7 479.7 L484.5 480.2 L487.0 481.5 L489.1 482.3 L491.7 482.3 L493.9 483.3 L496.5 483.9 L499.2 485.2 L502.0 485.6 L504.4 486.3 L507.0 485.4 L509.2 483.9 L511.5 485.0 L513.2 487.5 L515.5 488.7 L516.3 491.6 L517.9 494.2 L520.4 495.0 L522.6 496.8 L525.0 497.4 L527.5 495.8 L529.8 493.4 L532.5 492.3 L535.3 491.0 L536.8 488.6 L537.4 486.0 L537.1 483.7 L536.9 481.5 L537.0 479.3 L537.2 476.9 L538.1 474.2 L538.5 472.0 L539.4 469.2 L539.3 466.4 L540.6 464.7 L542.5 463.3 L545.1 464.1 L546.9 465.7 L548.2 467.9 L548.8 470.4 L550.4 472.9 L552.0 476.0 L554.7 477.3 L556.8 479.1 L559.3 479.6 L561.5 480.7 L562.8 482.2 L564.7 483.9 L567.0 484.3 L569.4 484.7 L571.4 483.6 L573.4 482.3 L573.9 480.1 L574.2 477.5 L576.7 477.5 L579.0 476.8 L580.2 476.0 L579.7 473.0 L579.0 470.4 L576.8 468.5 L574.2 466.4 L573.4 464.1 L571.8 461.7 L574.0 461.9 L576.5 463.2 L579.0 463.3 L581.0 462.2 L582.9 460.1 L582.7 457.9 L582.1 455.3 L584.6 454.5 L586.9 453.0 L585.3 449.8 L587.3 448.3 L589.3 446.6 L590.0 444.3 L590.1 441.9 L591.2 439.7 L592.4 437.1 L592.0 434.9 L590.9 432.3 L589.7 429.6 L589.3 426.8 L588.3 424.8 L586.9 422.8 L585.6 421.0 L583.5 419.9 L582.1 418.1 L579.8 416.3 L577.4 415.7 L575.2 414.5 L572.8 413.4 L571.0 411.7 L569.2 411.1 L566.9 410.5 L564.7 410.1 L563.0 408.7 L561.5 407.0 L559.8 405.6 L557.5 404.5 L555.2 403.0 L552.5 401.2 L550.4 399.0 L548.3 400.3 L545.7 401.4 L543.2 401.0 L541.2 400.6 L539.3 399.8 L536.6 399.2 L533.8 398.2 L533.8 401.1 L533.0 403.8 L531.7 406.7 L529.8 408.6 L527.8 409.8 L525.8 410.1 L523.6 409.3 L521.1 409.3 L518.7 408.6 L516.2 408.9 L513.8 408.0 L511.6 408.0 L509.2 407.8 L508.0 405.4 L507.6 403.0 L504.9 403.4 L502.0 403.8 L499.1 402.7 L496.5 400.6 L494.1 399.0 L491.1 398.2 L488.2 398.2Z" fill="#26cfbc"/>
<path d="M527.3 350.3 L526.0 352.2 L524.6 353.4 L524.2 356.8 L523.8 359.8 L521.7 360.9 L519.7 362.2 L517.6 363.2 L515.9 364.5 L513.5 365.8 L510.8 367.4 L508.7 369.3 L507.3 371.0 L505.4 372.5 L503.2 374.1 L500.9 375.6 L498.2 377.4 L495.5 378.3 L493.3 380.0 L492.4 382.0 L492.6 385.0 L491.2 387.3 L490.9 389.5 L490.1 391.6 L489.4 393.8 L489.0 396.3 L488.2 398.2 L491.1 398.2 L494.1 399.0 L496.5 400.6 L499.1 402.7 L502.0 403.8 L504.9 403.4 L507.6 403.0 L508.0 405.4 L509.2 407.8 L511.6 408.0 L513.8 408.0 L516.2 408.9 L518.7 408.6 L521.1 409.3 L523.6 409.3 L525.8 410.1 L527.8 409.8 L529.8 408.6 L531.7 406.7 L533.0 403.8 L533.8 401.1 L533.8 398.2 L536.6 399.2 L539.3 399.8 L541.2 400.6 L543.2 401.0 L545.7 401.4 L548.3 400.3 L550.4 399.0 L552.5 401.2 L555.2 403.0 L557.5 404.5 L559.8 405.6 L561.5 407.0 L563.0 408.7 L564.7 410.1 L566.9 410.5 L569.2 411.1 L571.0 411.7 L572.8 413.4 L575.2 414.5 L577.4 415.7 L579.8 416.3 L582.1 418.1 L583.5 419.9 L585.6 421.0 L586.9 422.8 L588.3 424.8 L589.3 426.8 L589.7 429.6 L590.9 432.3 L592.0 434.9 L592.4 437.1 L591.2 439.7 L590.1 441.9 L590.0 444.3 L589.3 446.6 L587.3 448.3 L585.3 449.8 L586.9 453.0 L584.6 454.5 L582.1 455.3 L582.7 457.9 L582.9 460.1 L581.0 462.2 L579.0 463.3 L576.5 463.2 L574.0 461.9 L571.8 461.7 L573.4 464.1 L574.2 466.4 L576.8 468.5 L579.0 470.4 L579.7 473.0 L580.2 476.0 L582.9 475.2 L584.3 472.7 L586.1 471.2 L585.3 468.0 L587.0 466.0 L589.3 464.1 L592.4 463.3 L593.7 465.8 L594.8 468.0 L597.3 468.9 L599.6 468.8 L601.2 470.1 L603.5 471.2 L605.4 472.7 L606.7 475.2 L607.0 478.3 L607.5 481.5 L610.3 481.9 L613.1 483.1 L615.0 481.7 L617.0 480.7 L619.0 480.6 L621.0 479.6 L621.5 477.2 L621.8 474.4 L624.6 473.1 L626.5 471.2 L626.6 468.3 L627.3 465.6 L627.3 462.5 L626.8 459.3 L626.5 456.1 L627.1 454.2 L628.1 452.2 L631.0 451.4 L633.7 451.4 L636.5 451.8 L639.2 452.2 L639.3 450.0 L640.0 448.2 L642.4 447.8 L645.6 448.1 L648.0 447.4 L648.0 444.6 L647.2 441.9 L647.9 439.5 L648.1 437.2 L648.8 434.7 L646.9 432.7 L644.5 431.1 L642.4 430.0 L640.5 428.4 L638.5 427.7 L636.9 426.0 L635.6 424.9 L632.9 425.4 L630.5 425.2 L628.1 427.6 L627.2 429.8 L627.4 432.2 L626.5 434.7 L628.2 436.0 L630.5 437.1 L630.7 439.5 L631.3 441.9 L629.3 442.7 L627.3 444.2 L626.5 447.1 L626.5 449.8 L624.7 448.7 L623.4 446.6 L621.0 444.2 L618.6 442.7 L616.9 439.7 L615.4 437.1 L615.3 434.5 L615.8 431.7 L616.2 429.2 L613.7 427.0 L612.3 424.4 L610.5 422.6 L609.4 420.1 L605.9 419.7 L604.0 418.4 L601.9 416.6 L599.6 415.7 L596.8 415.3 L597.6 413.6 L599.1 412.1 L597.8 409.7 L597.5 407.4 L599.2 404.5 L601.5 402.6 L603.4 401.1 L604.7 399.4 L604.0 396.5 L603.1 393.9 L600.4 394.2 L597.5 395.5 L595.2 396.3 L592.9 396.8 L590.7 397.9 L588.8 398.7 L585.5 399.0 L582.5 398.7 L581.2 401.0 L580.9 403.4 L578.6 402.4 L576.9 401.0 L574.1 400.5 L571.4 399.4 L570.5 397.1 L569.8 394.7 L567.6 393.3 L565.3 391.6 L563.4 389.9 L560.5 388.6 L557.9 387.5 L560.0 386.8 L561.9 385.2 L563.2 382.8 L565.0 380.4 L564.4 377.3 L563.4 374.9 L561.0 375.7 L558.4 375.6 L556.1 375.8 L553.9 376.4 L551.9 376.5 L549.9 377.3 L547.6 378.0 L546.3 376.0 L546.0 374.1 L544.0 371.8 L541.6 370.0 L539.7 367.7 L540.0 365.7 L541.2 363.8 L540.1 360.9 L538.9 358.2 L537.7 355.7 L536.7 352.4 L535.7 350.0 L533.0 350.5 L530.3 350.2 L527.3 350.3Z" fill="#ffd829"/>
<path d="M609.4 420.1 L611.4 419.0 L614.1 418.7 L616.4 417.7 L618.6 417.3 L619.6 415.5 L620.2 413.3 L620.7 410.8 L620.9 408.5 L621.0 406.3 L621.8 403.8 L623.1 401.3 L624.2 399.0 L625.7 397.7 L627.6 396.0 L629.7 395.1 L630.9 397.2 L631.3 399.8 L629.9 402.3 L628.1 404.6 L629.1 406.9 L628.9 409.3 L631.3 410.4 L633.5 411.5 L636.1 412.5 L637.2 416.2 L636.3 419.1 L636.6 422.3 L635.6 424.9 L632.9 425.4 L630.5 425.2 L628.1 427.6 L627.2 429.8 L627.4 432.2 L626.5 434.7 L628.2 436.0 L630.5 437.1 L630.7 439.5 L631.3 441.9 L629.3 442.7 L627.3 444.2 L626.5 447.1 L626.5 449.8 L624.7 448.7 L623.4 446.6 L621.0 444.2 L618.6 442.7 L616.9 439.7 L615.4 437.1 L615.3 434.5 L615.8 431.7 L616.2 429.2 L613.7 427.0 L612.3 424.4 L610.5 422.6 L609.4 420.1Z" fill="#ffd829"/>
<path d="M535.7 350.0 L538.0 349.8 L540.7 350.8 L542.5 351.1 L545.2 350.9 L547.6 351.1 L550.2 351.6 L552.7 350.9 L555.2 351.0 L557.6 352.1 L560.3 351.9 L562.7 351.2 L565.2 351.0 L567.5 351.3 L569.8 350.6 L572.0 350.7 L574.7 351.8 L577.0 352.2 L579.3 352.2 L580.7 354.3 L582.8 355.6 L584.1 357.4 L586.7 357.6 L589.1 358.5 L591.1 358.7 L593.6 359.8 L596.4 360.5 L598.8 361.3 L601.5 362.2 L604.6 362.2 L607.9 361.4 L609.4 364.5 L611.5 364.8 L613.4 364.5 L615.8 363.5 L618.3 361.8 L620.5 360.6 L622.7 359.1 L625.1 358.3 L627.6 357.2 L630.1 356.6 L632.5 356.3 L634.6 354.5 L637.2 353.8 L639.6 353.4 L641.9 353.8 L644.7 353.1 L647.0 353.7 L649.8 353.4 L652.3 353.4 L654.9 352.8 L657.7 351.8 L660.4 351.6 L663.4 351.1 L665.8 349.5 L668.0 347.0 L670.5 345.5 L672.2 343.6 L674.6 342.3 L676.8 340.1 L678.3 338.4 L680.8 336.8 L680.2 334.6 L680.0 332.8 L678.4 330.3 L676.1 328.1 L677.2 326.0 L678.1 324.2 L678.4 321.7 L680.7 320.1 L682.4 318.6 L685.1 319.1 L687.6 320.2 L690.3 320.9 L692.7 321.9 L695.5 322.0 L698.3 323.3 L700.4 321.9 L702.9 320.4 L704.6 318.6 L706.0 316.3 L707.8 314.6 L710.2 314.2 L712.9 313.9 L715.2 313.3 L717.8 313.1 L720.0 313.0 L717.2 313.5 L714.5 313.8 L711.9 314.2 L709.4 315.3 L706.3 315.5 L709.4 314.5 L711.9 314.0 L715.1 313.2 L717.7 311.9 L719.8 310.3 L722.2 309.2 L723.6 307.3 L725.5 306.1 L727.0 304.4 L729.3 302.8 L731.4 301.5 L734.1 300.5 L736.3 300.1 L738.2 298.5 L740.5 297.7 L742.8 297.3 L745.7 297.4 L748.1 296.4 L750.8 296.5 L753.1 297.6 L756.4 297.9 L758.7 298.9 L758.9 297.1 L759.5 294.9 L757.7 292.8 L757.0 290.4 L755.5 288.6 L753.9 286.4 L751.2 285.2 L749.2 283.0 L746.0 281.4 L742.9 280.6 L739.7 280.7 L737.7 283.0 L735.7 284.6 L732.9 283.6 L730.1 282.2 L727.8 282.9 L725.1 282.3 L722.2 283.0 L720.7 281.5 L719.1 279.8 L717.4 278.3 L718.9 276.2 L720.0 273.8 L720.6 271.1 L722.0 269.1 L723.5 266.6 L724.3 264.3 L725.4 261.6 L727.2 259.1 L728.6 256.1 L731.1 257.0 L733.4 258.4 L735.7 258.9 L738.1 260.0 L740.3 258.5 L743.4 257.3 L746.0 256.1 L748.3 255.0 L750.7 254.3 L752.3 252.9 L753.2 250.6 L753.6 247.8 L754.7 245.8 L756.3 243.3 L756.7 240.7 L757.9 238.4 L759.5 236.2 L760.8 234.2 L762.3 232.4 L763.4 229.9 L765.3 227.9 L766.4 226.0 L768.2 224.3 L768.3 222.5 L767.4 220.4 L764.8 219.8 L761.9 218.8 L762.6 216.9 L763.4 214.8 L765.7 213.9 L767.8 212.3 L769.8 210.9 L772.6 210.7 L775.3 210.7 L777.7 210.9 L778.0 213.0 L778.5 214.8 L776.1 216.7 L773.8 218.8 L775.8 220.5 L777.7 222.0 L780.9 220.4 L782.7 222.1 L784.1 224.3 L786.1 224.9 L788.0 225.1 L788.2 227.9 L788.8 230.7 L790.6 233.3 L792.0 236.2 L795.2 236.6 L798.3 237.0 L800.2 236.1 L802.6 235.6 L804.7 235.4 L807.0 235.7 L809.4 235.4 L810.9 233.7 L812.6 232.3 L814.6 234.4 L817.4 236.2 L819.0 238.8 L821.3 241.0 L820.3 243.1 L819.5 245.2 L819.0 247.3 L817.8 249.9 L815.8 252.1 L815.4 254.3 L814.4 256.4 L813.4 258.4 L812.9 260.6 L812.6 263.2 L810.7 264.0 L809.4 265.6 L808.1 267.8 L807.6 270.5 L806.3 272.7 L805.5 275.4 L805.5 278.3 L804.5 276.4 L803.1 274.3 L800.9 275.8 L798.3 277.5 L795.9 279.3 L793.6 281.4 L791.0 283.3 L788.8 285.4 L787.1 287.1 L785.7 289.4 L786.6 292.1 L788.0 294.1 L789.5 295.6 L790.4 297.3 L791.0 299.8 L791.7 302.6 L790.6 304.6 L789.0 305.8 L786.6 306.9 L784.3 307.0 L781.6 307.4 L779.1 308.7 L780.5 310.5 L781.4 312.8 L782.0 315.0 L783.1 316.3 L782.6 319.5 L782.0 322.2 L782.5 324.1 L783.4 326.2 L783.7 328.6 L786.4 328.2 L789.0 327.4 L791.9 328.0 L793.4 330.0 L794.2 332.7 L795.2 334.9 L796.0 337.3 L794.8 340.2 L798.0 341.0 L798.3 343.1 L796.8 344.5 L794.8 346.1 L792.3 348.0 L790.1 349.6 L787.7 349.2 L785.5 349.0 L782.6 349.5 L780.2 350.7 L777.3 353.1 L774.8 354.1 L772.7 355.0 L770.3 356.0 L767.8 357.6 L765.1 359.5 L763.0 361.4 L761.6 363.6 L761.1 361.6 L759.8 359.5 L757.7 357.6 L756.3 355.4 L753.4 357.1 L753.2 360.1 L754.0 363.0 L753.1 365.6 L752.7 368.7 L750.5 369.1 L748.6 369.2 L745.1 368.1 L743.9 366.3 L742.8 364.0 L743.1 361.9 L744.0 359.3 L742.8 357.6 L741.6 355.8 L741.1 353.5 L739.9 351.7 L738.1 352.3 L735.8 352.3 L733.6 353.5 L731.1 354.7 L730.7 356.8 L730.0 358.7 L727.7 359.0 L725.3 359.9 L722.8 360.2 L720.6 361.1 L718.2 361.9 L716.0 362.8 L713.5 363.7 L711.3 365.2 L710.8 363.3 L710.4 361.2 L710.1 358.7 L707.2 358.2 L705.5 360.2 L703.7 361.7 L703.3 364.2 L703.1 366.3 L700.8 368.7 L700.8 370.8 L701.4 372.7 L701.8 375.1 L702.6 377.4 L704.1 380.1 L702.0 380.6 L699.7 380.9 L697.5 381.4 L695.0 382.1 L692.5 382.6 L689.7 383.8 L687.3 384.4 L685.1 383.8 L682.7 386.7 L681.0 388.7 L679.2 389.4 L677.5 391.4 L675.5 392.8 L673.3 393.5 L670.3 394.3 L667.8 395.9 L666.1 394.7 L663.8 394.3 L662.8 396.2 L661.4 398.2 L660.4 400.1 L658.1 401.4 L656.7 403.0 L654.9 405.3 L653.7 407.1 L651.9 409.3 L650.7 411.5 L649.8 414.0 L648.8 416.5 L645.9 417.3 L642.4 417.3 L639.7 416.2 L637.2 416.2 L636.1 412.5 L633.5 411.5 L631.3 410.4 L628.9 409.3 L629.1 406.9 L628.1 404.6 L629.9 402.3 L631.3 399.8 L630.9 397.2 L629.7 395.1 L627.6 396.0 L625.7 397.7 L624.2 399.0 L623.1 401.3 L621.8 403.8 L621.0 406.3 L620.9 408.5 L620.7 410.8 L620.2 413.3 L619.6 415.5 L618.6 417.3 L616.4 417.7 L614.1 418.7 L611.4 419.0 L609.4 420.1 L605.9 419.7 L604.0 418.4 L601.9 416.6 L599.6 415.7 L596.8 415.3 L597.6 413.6 L599.1 412.1 L597.8 409.7 L597.5 407.4 L599.2 404.5 L601.5 402.6 L603.4 401.1 L604.7 399.4 L604.0 396.5 L603.1 393.9 L600.4 394.2 L597.5 395.5 L595.2 396.3 L592.9 396.8 L590.7 397.9 L588.8 398.7 L585.5 399.0 L582.5 398.7 L581.2 401.0 L580.9 403.4 L578.6 402.4 L576.9 401.0 L574.1 400.5 L571.4 399.4 L570.5 397.1 L569.8 394.7 L567.6 393.3 L565.3 391.6 L563.4 389.9 L560.5 388.6 L557.9 387.5 L560.0 386.8 L561.9 385.2 L563.2 382.8 L565.0 380.4 L564.4 377.3 L563.4 374.9 L561.0 375.7 L558.4 375.6 L556.1 375.8 L553.9 376.4 L551.9 376.5 L549.9 377.3 L547.6 378.0 L546.3 376.0 L546.0 374.1 L544.0 371.8 L541.6 370.0 L539.7 367.7 L540.0 365.7 L541.2 363.8 L540.1 360.9 L538.9 358.2 L537.7 355.7 L536.7 352.4 L535.7 350.0Z" fill="#5fdab9"/>
<path d="M637.2 416.2 L639.7 416.2 L642.4 417.3 L645.9 417.3 L648.8 416.5 L649.8 414.0 L650.7 411.5 L651.9 409.3 L653.7 407.1 L654.9 405.3 L656.7 403.0 L658.1 401.4 L660.4 400.1 L661.4 398.2 L662.8 396.2 L663.8 394.3 L666.1 394.7 L667.8 395.9 L670.3 394.3 L673.3 393.5 L672.6 396.3 L671.5 398.7 L671.0 401.4 L670.2 403.7 L670.1 406.2 L670.0 408.4 L670.2 410.9 L669.4 413.3 L667.8 415.7 L668.8 417.9 L669.5 419.7 L670.2 422.0 L669.5 424.3 L667.8 426.1 L667.0 428.4 L667.2 431.1 L667.6 433.6 L667.8 436.3 L667.2 438.7 L667.8 441.3 L667.1 443.7 L667.0 445.8 L666.7 448.0 L666.6 450.5 L666.1 453.0 L665.4 455.3 L666.2 458.2 L666.8 460.5 L667.2 463.1 L668.5 465.1 L669.3 467.7 L670.7 469.5 L671.8 471.3 L671.9 473.5 L672.6 475.9 L670.3 475.9 L667.7 476.5 L664.7 475.7 L662.1 475.9 L659.9 476.4 L657.4 477.0 L660.5 479.0 L662.2 481.0 L664.1 482.6 L661.3 483.9 L659.0 485.7 L658.5 488.3 L657.4 490.8 L657.4 493.8 L657.0 496.2 L654.4 495.5 L651.8 493.9 L650.0 492.5 L648.3 491.5 L646.2 490.6 L643.6 490.3 L640.6 488.7 L638.1 487.6 L635.4 486.7 L633.6 485.8 L632.3 484.1 L629.1 484.1 L626.2 483.6 L623.8 483.7 L621.1 483.1 L621.0 479.6 L621.5 477.2 L621.8 474.4 L624.6 473.1 L626.5 471.2 L626.6 468.3 L627.3 465.6 L627.3 462.5 L626.8 459.3 L626.5 456.1 L627.1 454.2 L628.1 452.2 L631.0 451.4 L633.7 451.4 L636.5 451.8 L639.2 452.2 L639.3 450.0 L640.0 448.2 L642.4 447.8 L645.6 448.1 L648.0 447.4 L648.0 444.6 L647.2 441.9 L647.9 439.5 L648.1 437.2 L648.8 434.7 L646.9 432.7 L644.5 431.1 L642.4 430.0 L640.5 428.4 L638.5 427.7 L636.9 426.0 L635.6 424.9 L636.6 422.3 L636.3 419.1 L637.2 416.2Z" fill="#8cd990"/>
<path d="M673.3 393.5 L675.5 392.8 L677.5 391.4 L679.2 389.4 L681.0 388.7 L682.7 386.7 L685.1 383.8 L687.3 384.4 L689.7 383.8 L692.5 382.6 L695.0 382.1 L697.5 381.4 L699.7 380.9 L702.0 380.6 L704.1 380.1 L706.1 382.1 L704.3 385.0 L702.0 386.2 L704.9 388.5 L706.6 390.8 L705.6 393.2 L704.9 395.5 L702.6 397.2 L700.2 400.1 L699.4 402.7 L699.1 404.8 L697.9 408.3 L699.0 411.1 L700.8 413.0 L701.5 415.2 L702.0 417.6 L700.8 420.7 L700.2 423.5 L699.0 426.2 L697.9 429.3 L696.7 430.5 L697.4 432.9 L698.3 435.7 L697.5 438.8 L697.0 442.1 L695.3 443.1 L693.4 444.6 L691.2 445.7 L689.3 447.2 L686.5 448.0 L683.1 448.2 L681.1 450.8 L678.5 452.8 L675.9 453.9 L673.2 455.0 L670.8 455.9 L668.2 456.9 L666.2 458.2 L665.4 455.3 L666.1 453.0 L666.6 450.5 L666.7 448.0 L667.0 445.8 L667.1 443.7 L667.8 441.3 L667.2 438.7 L667.8 436.3 L667.6 433.6 L667.2 431.1 L667.0 428.4 L667.8 426.1 L669.5 424.3 L670.2 422.0 L669.5 419.7 L668.8 417.9 L667.8 415.7 L669.4 413.3 L670.2 410.9 L670.0 408.4 L670.1 406.2 L670.2 403.7 L671.0 401.4 L671.5 398.7 L672.6 396.3 L673.3 393.5Z" fill="#3bbf6a"/>
<path d="M704.1 380.1 L702.6 377.4 L701.8 375.1 L701.4 372.7 L700.8 370.8 L700.8 368.7 L703.1 366.3 L703.3 364.2 L703.7 361.7 L705.5 360.2 L707.2 358.2 L710.1 358.7 L710.4 361.2 L710.8 363.3 L711.3 365.2 L713.5 363.7 L716.0 362.8 L718.2 361.9 L720.6 361.1 L722.8 360.2 L725.3 359.9 L727.7 359.0 L730.0 358.7 L730.7 356.8 L731.1 354.7 L733.6 353.5 L735.8 352.3 L738.1 352.3 L739.9 351.7 L741.1 353.5 L741.6 355.8 L742.8 357.6 L744.0 359.3 L743.1 361.9 L742.8 364.0 L743.9 366.3 L745.1 368.1 L748.6 369.2 L750.5 369.1 L752.7 368.7 L753.4 370.0 L752.3 372.4 L751.1 375.2 L753.1 376.5 L754.6 378.1 L756.2 379.9 L757.5 382.2 L759.1 385.6 L757.3 387.2 L755.6 389.7 L753.4 391.3 L752.1 393.1 L750.0 394.5 L748.6 396.6 L746.3 399.0 L743.4 398.4 L741.0 399.0 L741.7 396.9 L740.9 394.7 L740.3 391.9 L738.6 390.2 L738.1 388.0 L739.5 386.9 L738.6 385.2 L736.4 383.8 L735.0 384.6 L734.1 386.3 L733.6 389.1 L732.2 390.5 L730.2 391.4 L730.0 393.6 L730.2 396.4 L728.8 399.2 L728.8 401.7 L730.5 403.1 L733.6 404.5 L736.0 404.8 L738.4 405.4 L740.5 408.3 L739.9 409.7 L738.0 411.8 L735.8 413.0 L733.4 413.5 L731.1 414.7 L729.7 416.4 L727.6 417.6 L725.7 418.7 L724.1 420.0 L722.8 422.6 L721.2 424.6 L719.9 426.6 L718.3 428.1 L716.2 429.5 L714.8 431.6 L715.3 433.7 L715.4 436.3 L714.8 439.2 L713.9 436.4 L710.8 438.0 L708.3 436.9 L705.7 436.9 L703.6 436.2 L701.6 435.4 L698.3 435.7 L697.4 432.9 L696.7 430.5 L697.9 429.3 L699.0 426.2 L700.2 423.5 L700.8 420.7 L702.0 417.6 L701.5 415.2 L700.8 413.0 L699.0 411.1 L697.9 408.3 L699.1 404.8 L699.4 402.7 L700.2 400.1 L702.6 397.2 L704.9 395.5 L705.6 393.2 L706.6 390.8 L704.9 388.5 L702.0 386.2 L704.3 385.0 L706.1 382.1 L704.1 380.1Z" fill="#52d9c3"/>
<path d="M738.4 405.4 L736.0 404.8 L733.6 404.5 L730.5 403.1 L728.8 401.7 L728.8 399.2 L730.2 396.4 L730.0 393.6 L730.2 391.4 L732.2 390.5 L733.6 389.1 L734.1 386.3 L735.0 384.6 L736.4 383.8 L738.6 385.2 L739.5 386.9 L738.1 388.0 L738.6 390.2 L740.3 391.9 L740.9 394.7 L741.7 396.9 L741.0 399.0 L738.6 401.4 L738.1 404.2 L738.4 405.4Z" fill="#40dad0"/>
<path d="M727.7 372.8 L729.1 375.1 L730.5 376.8 L733.0 377.6 L736.1 377.8 L735.2 379.9 L734.3 382.1 L735.0 383.5 L733.6 384.9 L731.4 386.0 L729.7 387.2 L729.2 388.6 L729.5 390.5 L728.0 391.9 L726.0 392.8 L723.5 392.2 L721.6 393.0 L719.3 393.6 L716.8 392.2 L716.0 389.1 L716.2 386.3 L719.0 385.2 L721.0 383.5 L719.6 381.6 L719.0 379.0 L721.8 377.9 L724.1 376.2 L725.8 374.0 L727.7 372.8Z" fill="#2acfb2"/>
<path d="M752.7 368.7 L753.1 365.6 L754.0 363.0 L753.2 360.1 L753.4 357.1 L756.3 355.4 L757.7 357.6 L759.8 359.5 L761.1 361.6 L761.6 363.6 L763.0 361.4 L765.1 359.5 L767.8 357.6 L770.3 356.0 L772.7 355.0 L774.8 354.1 L777.3 353.1 L780.2 350.7 L782.6 349.5 L785.5 349.0 L787.7 349.2 L790.1 349.6 L792.3 348.0 L794.8 346.1 L796.8 344.5 L798.3 343.1 L798.0 341.0 L799.8 341.4 L801.8 342.6 L803.6 344.7 L805.9 346.6 L807.8 345.5 L809.4 344.9 L810.8 347.6 L811.1 350.1 L811.7 352.3 L812.7 354.1 L814.1 356.0 L814.6 358.8 L815.2 361.8 L816.4 364.5 L817.0 367.6 L817.5 370.0 L819.0 371.9 L819.3 374.1 L817.6 375.2 L815.8 377.0 L813.4 379.1 L811.1 380.5 L809.4 382.5 L807.6 384.0 L806.2 385.5 L804.1 387.0 L803.0 388.6 L800.8 388.8 L798.3 389.8 L795.7 391.3 L792.5 392.1 L790.7 393.5 L788.5 394.3 L786.6 395.6 L784.6 396.6 L783.2 397.9 L780.8 398.5 L778.8 399.1 L777.1 400.3 L775.0 401.5 L772.1 403.2 L772.9 401.1 L773.2 399.1 L774.5 397.3 L776.2 395.6 L775.0 392.1 L775.7 389.8 L776.2 387.5 L777.8 385.4 L780.2 384.0 L781.5 382.3 L783.1 380.5 L781.9 378.9 L780.8 377.0 L779.4 375.9 L777.3 375.2 L774.8 375.7 L772.7 375.8 L771.1 377.9 L769.2 379.3 L767.2 381.3 L765.1 382.8 L763.4 383.9 L761.1 385.0 L759.1 385.6 L757.5 382.2 L756.2 379.9 L754.6 378.1 L753.1 376.5 L751.1 375.2 L752.3 372.4 L753.4 370.0 L752.7 368.7Z" fill="#6edaae"/>
<path d="M791.7 302.6 L790.6 304.6 L789.0 305.8 L786.6 306.9 L784.3 307.0 L781.6 307.4 L779.1 308.7 L780.5 310.5 L781.4 312.8 L782.0 315.0 L783.1 316.3 L782.6 319.5 L782.0 322.2 L782.5 324.1 L783.4 326.2 L783.7 328.6 L786.4 328.2 L789.0 327.4 L791.9 328.0 L793.4 330.0 L794.2 332.7 L795.2 334.9 L796.0 337.3 L794.8 340.2 L798.0 341.0 L799.8 341.4 L801.8 342.6 L803.6 344.7 L805.9 346.6 L807.8 345.5 L809.4 344.9 L810.8 347.6 L811.1 350.1 L811.7 352.3 L812.7 354.1 L814.1 356.0 L814.6 358.8 L815.2 361.8 L816.4 364.5 L817.0 367.6 L817.5 370.0 L819.0 371.9 L819.3 374.1 L820.9 373.0 L822.8 371.7 L824.3 369.6 L826.3 367.6 L828.1 365.7 L829.8 363.6 L831.8 364.0 L833.3 365.3 L835.4 366.6 L838.0 367.1 L839.9 367.2 L842.0 366.5 L841.9 363.9 L842.6 361.8 L845.0 360.1 L848.3 359.3 L850.8 357.7 L852.9 356.4 L854.3 354.8 L856.6 353.2 L857.8 351.3 L858.7 349.6 L860.1 347.8 L863.0 349.0 L865.0 351.4 L866.5 353.6 L866.3 351.1 L867.1 349.0 L869.4 347.5 L871.2 345.5 L871.6 342.8 L872.4 340.2 L869.4 339.7 L867.3 338.4 L865.4 337.3 L864.2 335.4 L863.6 333.8 L861.4 334.2 L859.5 334.4 L857.3 335.5 L854.9 336.2 L852.5 337.6 L850.2 339.1 L849.0 337.6 L847.3 336.2 L846.6 333.3 L845.0 330.9 L843.5 329.6 L842.6 327.4 L840.5 329.1 L838.5 330.9 L837.5 328.7 L836.8 326.8 L834.3 325.9 L832.1 324.5 L831.1 321.7 L830.4 319.2 L828.2 318.3 L826.3 317.5 L824.0 317.4 L821.8 317.9 L819.3 317.5 L817.8 315.9 L817.0 313.4 L814.8 313.5 L812.3 314.0 L809.5 314.6 L807.1 314.6 L805.1 313.5 L803.6 311.7 L802.6 309.3 L801.2 307.0 L801.3 305.1 L800.6 302.9 L797.6 302.7 L794.6 302.4 L791.7 302.6Z" fill="#a6da72"/>
<path d="M777.7 210.9 L778.0 213.0 L778.5 214.8 L776.1 216.7 L773.8 218.8 L775.8 220.5 L777.7 222.0 L780.9 220.4 L782.7 222.1 L784.1 224.3 L786.1 224.9 L788.0 225.1 L788.2 227.9 L788.8 230.7 L790.6 233.3 L792.0 236.2 L795.2 236.6 L798.3 237.0 L800.2 236.1 L802.6 235.6 L804.7 235.4 L807.0 235.7 L809.4 235.4 L810.9 233.7 L812.6 232.3 L814.6 234.4 L817.4 236.2 L819.0 238.8 L821.3 241.0 L820.3 243.1 L819.5 245.2 L819.0 247.3 L817.8 249.9 L815.8 252.1 L815.4 254.3 L814.4 256.4 L813.4 258.4 L812.9 260.6 L812.6 263.2 L810.7 264.0 L809.4 265.6 L808.1 267.8 L807.6 270.5 L806.3 272.7 L805.5 275.4 L805.5 278.3 L804.5 276.4 L803.1 274.3 L800.9 275.8 L798.3 277.5 L795.9 279.3 L793.6 281.4 L791.0 283.3 L788.8 285.4 L787.1 287.1 L785.7 289.4 L786.6 292.1 L788.0 294.1 L789.5 295.6 L790.4 297.3 L791.0 299.8 L791.7 302.6 L794.6 302.4 L797.6 302.7 L800.6 302.9 L801.3 305.1 L801.2 307.0 L802.6 309.3 L803.6 311.7 L805.1 313.5 L807.1 314.6 L809.5 314.6 L812.3 314.0 L814.8 313.5 L817.0 313.4 L817.8 315.9 L819.3 317.5 L821.8 317.9 L824.0 317.4 L826.3 317.5 L828.2 318.3 L830.4 319.2 L831.1 321.7 L832.1 324.5 L834.3 325.9 L836.8 326.8 L837.5 328.7 L838.5 330.9 L840.5 329.1 L842.6 327.4 L843.5 329.6 L845.0 330.9 L846.6 333.3 L847.3 336.2 L849.0 337.6 L850.2 339.1 L852.5 337.6 L854.9 336.2 L857.3 335.5 L859.5 334.4 L861.4 334.2 L863.6 333.8 L864.2 335.4 L865.4 337.3 L867.3 338.4 L869.4 339.7 L872.4 340.2 L872.7 337.4 L871.8 335.3 L871.7 332.2 L872.1 329.8 L871.1 327.4 L871.0 324.3 L870.5 321.9 L872.6 321.4 L874.5 320.3 L876.8 318.5 L879.2 316.3 L882.3 317.2 L885.6 317.1 L888.0 317.8 L891.1 317.9 L892.7 315.5 L893.2 313.1 L894.3 310.8 L896.0 308.6 L897.3 307.0 L898.3 304.4 L899.2 301.7 L899.7 299.0 L900.6 296.5 L901.0 293.5 L902.1 291.4 L903.0 288.6 L904.7 286.5 L907.0 284.6 L906.7 281.9 L906.2 279.1 L907.8 277.5 L909.3 275.7 L911.0 274.3 L908.5 274.5 L906.2 275.1 L903.2 275.4 L900.8 275.9 L898.3 276.7 L895.7 277.9 L892.8 278.4 L890.3 279.1 L888.0 281.3 L885.6 283.0 L883.2 283.5 L881.6 284.3 L879.2 284.6 L877.2 283.9 L874.4 284.4 L872.1 283.8 L869.6 281.6 L868.1 279.1 L867.8 276.1 L867.3 272.7 L864.9 270.5 L863.4 268.0 L861.0 266.9 L859.5 264.5 L857.0 263.2 L854.6 262.2 L851.6 260.8 L849.1 260.0 L846.5 259.3 L843.8 258.5 L841.2 258.4 L839.7 256.8 L838.2 255.1 L836.4 253.7 L836.2 251.1 L835.8 248.3 L834.8 245.8 L834.1 243.5 L832.6 241.7 L831.7 239.4 L830.0 237.4 L829.7 234.8 L828.5 233.1 L827.6 230.5 L826.5 227.5 L825.3 225.1 L823.6 222.9 L822.2 220.6 L821.3 218.0 L819.6 216.1 L817.9 214.4 L815.8 213.2 L813.5 212.1 L810.7 211.6 L807.9 210.9 L805.1 209.9 L802.6 209.4 L799.9 208.5 L797.9 207.9 L795.7 207.9 L793.6 206.9 L790.9 207.2 L788.5 208.1 L785.7 208.5 L782.9 209.5 L780.3 210.0 L777.7 210.9Z" fill="#30c996"/>
<path d="M739.9 409.7 L738.0 411.8 L735.8 413.0 L733.4 413.5 L731.1 414.7 L729.7 416.4 L727.6 417.6 L725.7 418.7 L724.1 420.0 L722.8 422.6 L721.2 424.6 L719.9 426.6 L718.3 428.1 L716.2 429.5 L714.8 431.6 L715.3 433.7 L715.4 436.3 L714.8 439.2 L716.5 442.1 L719.0 440.0 L722.1 438.5 L720.0 439.7 L718.7 441.6 L717.0 443.1 L715.2 444.9 L713.4 446.7 L712.2 448.0 L710.8 449.8 L710.3 452.3 L712.4 453.0 L714.4 453.9 L715.6 455.4 L716.5 457.5 L719.0 457.9 L721.1 458.0 L724.2 458.8 L725.3 460.3 L724.7 458.8 L725.8 456.7 L726.2 454.4 L729.3 453.0 L731.6 455.4 L732.9 459.0 L734.9 459.4 L737.0 459.5 L739.2 458.8 L741.6 458.5 L743.7 461.1 L745.5 459.0 L746.7 457.0 L748.5 455.3 L750.3 453.9 L752.3 452.3 L754.5 451.4 L756.2 449.1 L758.0 446.8 L759.5 445.0 L761.5 443.3 L762.8 441.0 L763.8 438.6 L766.2 437.1 L768.5 435.7 L769.9 433.7 L772.0 431.6 L774.2 430.5 L776.6 428.7 L779.6 427.8 L782.4 427.0 L784.8 426.7 L786.5 425.8 L787.4 423.4 L787.7 421.1 L785.4 421.0 L783.6 420.0 L781.2 420.2 L779.0 420.0 L776.6 419.6 L774.3 418.8 L772.1 417.3 L769.6 416.5 L767.2 416.3 L765.0 417.1 L762.8 418.2 L761.5 420.0 L759.6 422.1 L758.0 424.1 L755.4 424.1 L753.3 423.5 L751.8 421.9 L751.0 420.0 L751.8 417.7 L751.5 415.3 L750.0 413.7 L748.6 411.8 L746.3 411.3 L744.0 410.6 L741.8 410.3 L739.9 409.7Z" fill="#20d5d0"/>
<path d="M698.3 435.7 L701.6 435.4 L703.6 436.2 L705.7 436.9 L708.3 436.9 L710.8 438.0 L713.9 436.4 L714.8 439.2 L716.5 442.1 L719.0 440.0 L722.1 438.5 L720.0 439.7 L718.7 441.6 L717.0 443.1 L715.2 444.9 L713.4 446.7 L712.2 448.0 L710.8 449.8 L710.3 452.3 L712.4 453.0 L714.4 453.9 L715.6 455.4 L716.5 457.5 L719.0 457.9 L721.1 458.0 L724.2 458.8 L725.3 460.3 L727.2 463.1 L728.3 466.7 L725.7 468.0 L722.1 468.4 L720.1 465.2 L717.5 466.2 L717.3 468.1 L717.0 470.3 L714.9 472.3 L714.3 474.5 L713.9 476.5 L710.8 478.5 L712.9 481.6 L714.9 484.7 L718.0 485.7 L721.1 485.2 L721.3 487.5 L721.1 489.8 L720.1 491.9 L720.1 493.9 L718.9 496.2 L717.5 498.0 L716.6 499.6 L713.9 499.0 L710.8 499.0 L709.1 497.4 L706.7 496.5 L704.6 495.9 L702.6 495.4 L701.5 493.6 L699.5 491.8 L698.8 489.1 L699.0 486.7 L696.5 487.7 L693.7 486.7 L691.3 486.7 L688.1 486.9 L685.2 487.2 L683.4 486.0 L680.7 485.0 L679.0 483.6 L677.0 481.7 L674.9 479.5 L673.8 477.8 L672.6 475.9 L671.9 473.5 L671.8 471.3 L670.7 469.5 L669.3 467.7 L668.5 465.1 L667.2 463.1 L666.8 460.5 L666.2 458.2 L668.2 456.9 L670.8 455.9 L673.2 455.0 L675.9 453.9 L678.5 452.8 L681.1 450.8 L683.1 448.2 L686.5 448.0 L689.3 447.2 L691.2 445.7 L693.4 444.6 L695.3 443.1 L697.0 442.1 L697.5 438.8 L698.3 435.7Z" fill="#30dae0"/>
<path d="M754.5 451.4 L752.3 452.3 L750.3 453.9 L748.5 455.3 L746.7 457.0 L745.5 459.0 L743.7 461.1 L741.6 458.5 L739.2 458.8 L737.0 459.5 L734.9 459.4 L732.9 459.0 L731.6 455.4 L729.3 453.0 L726.2 454.4 L725.8 456.7 L724.7 458.8 L725.3 460.3 L728.3 461.1 L730.3 463.6 L732.4 464.1 L734.4 465.2 L736.1 466.3 L738.0 466.7 L739.6 467.9 L741.1 469.3 L741.5 472.6 L742.6 475.4 L742.8 477.7 L743.7 479.5 L744.8 481.2 L746.7 482.6 L748.2 481.1 L749.3 479.5 L752.9 480.6 L753.3 482.6 L753.4 484.7 L750.3 486.2 L747.3 485.7 L746.6 487.5 L746.7 489.8 L745.2 492.9 L746.9 494.7 L747.8 497.0 L748.3 499.4 L748.8 502.1 L751.8 502.2 L755.0 503.1 L758.2 504.2 L760.5 505.0 L762.3 506.6 L764.5 507.3 L766.4 507.7 L769.3 506.0 L771.3 505.5 L771.5 503.3 L771.6 501.3 L774.0 499.0 L776.9 500.5 L779.8 501.3 L781.0 497.8 L780.2 495.5 L779.8 493.1 L778.3 490.6 L776.3 488.5 L775.4 485.8 L774.0 483.8 L772.2 481.8 L771.5 478.7 L769.9 476.8 L769.3 474.0 L767.3 471.3 L767.0 468.7 L766.8 466.3 L765.9 464.0 L764.6 461.7 L763.5 460.0 L761.0 458.7 L760.0 457.0 L758.5 454.8 L755.9 453.4 L754.5 451.4Z" fill="#30dae0"/>
<path d="M779.8 501.3 L776.9 500.5 L774.0 499.0 L771.6 501.3 L771.5 503.3 L771.3 505.5 L773.4 508.3 L776.9 508.3 L780.0 507.4 L780.8 504.8 L779.8 501.3Z" fill="#7adb98"/>
<path d="M758.2 504.2 L760.5 505.0 L762.3 506.6 L764.5 507.3 L766.4 507.7 L769.3 506.0 L771.3 505.5 L773.4 508.3 L772.3 510.2 L774.4 512.7 L775.9 514.4 L777.2 515.5 L778.6 517.0 L779.8 518.8 L780.6 522.5 L779.8 525.8 L779.5 528.7 L779.2 531.6 L778.5 533.7 L778.3 536.3 L777.5 538.6 L776.1 540.6 L774.8 542.4 L774.0 544.5 L773.2 546.5 L772.0 548.7 L770.5 550.3 L768.6 552.2 L767.0 555.0 L764.6 553.8 L762.3 553.3 L760.0 553.8 L758.1 552.3 L757.1 550.3 L755.0 551.0 L753.0 552.0 L751.6 549.3 L750.6 546.8 L749.3 544.8 L748.9 542.7 L746.6 541.0 L746.3 538.8 L746.0 536.3 L744.6 534.2 L743.6 531.6 L743.1 529.4 L742.1 527.6 L743.6 525.2 L746.1 523.7 L748.3 522.3 L748.8 520.0 L750.1 518.0 L750.6 515.9 L753.6 513.6 L755.3 511.6 L756.5 509.5 L757.1 506.5 L758.2 504.2Z" fill="#20d5d0"/>
<path d="M725.3 460.3 L727.2 463.1 L728.3 466.7 L725.7 468.0 L722.1 468.4 L720.1 465.2 L717.5 466.2 L717.3 468.1 L717.0 470.3 L714.9 472.3 L714.3 474.5 L713.9 476.5 L710.8 478.5 L712.9 481.6 L714.9 484.7 L718.0 485.7 L721.1 485.2 L721.3 487.5 L721.1 489.8 L720.1 491.9 L720.1 493.9 L718.9 496.2 L717.5 498.0 L716.6 499.6 L719.0 500.8 L721.1 503.1 L722.1 506.2 L720.1 509.3 L720.3 511.5 L721.1 513.4 L721.9 516.1 L722.1 518.5 L723.0 521.4 L724.3 519.8 L726.2 518.8 L729.7 519.4 L728.5 522.9 L730.8 523.5 L732.7 522.3 L734.3 521.1 L736.9 522.9 L739.0 524.6 L740.4 526.6 L742.1 527.6 L743.6 525.2 L746.1 523.7 L748.3 522.3 L748.8 520.0 L750.1 518.0 L750.6 515.9 L753.6 513.6 L755.3 511.6 L756.5 509.5 L757.1 506.5 L758.2 504.2 L755.0 503.1 L751.8 502.2 L748.8 502.1 L748.3 499.4 L747.8 497.0 L746.9 494.7 L745.2 492.9 L746.7 489.8 L746.6 487.5 L747.3 485.7 L750.3 486.2 L753.4 484.7 L753.3 482.6 L752.9 480.6 L749.3 479.5 L748.2 481.1 L746.7 482.6 L744.8 481.2 L743.7 479.5 L742.8 477.7 L742.6 475.4 L741.5 472.6 L741.1 469.3 L739.6 467.9 L738.0 466.7 L736.1 466.3 L734.4 465.2 L732.4 464.1 L730.3 463.6 L728.3 461.1 L725.3 460.3Z" fill="#20d5d0"/>
<path d="M672.6 475.9 L673.8 477.8 L674.9 479.5 L677.0 481.7 L679.0 483.6 L680.7 485.0 L683.4 486.0 L685.2 487.2 L688.1 486.9 L691.3 486.7 L693.7 486.7 L696.5 487.7 L699.0 486.7 L698.8 489.1 L699.5 491.8 L701.5 493.6 L702.6 495.4 L704.6 495.9 L706.7 496.5 L709.1 497.4 L710.8 499.0 L713.9 499.0 L716.6 499.6 L719.0 500.8 L721.1 503.1 L722.1 506.2 L720.1 509.3 L720.3 511.5 L721.1 513.4 L721.9 516.1 L722.1 518.5 L723.0 521.4 L720.4 522.3 L718.0 522.9 L715.5 523.2 L713.3 524.6 L710.6 525.5 L708.7 527.0 L706.6 527.6 L704.0 528.1 L700.9 530.3 L700.3 527.4 L699.1 525.2 L697.9 523.2 L697.0 521.1 L695.0 523.3 L692.9 525.2 L691.4 522.1 L688.8 523.1 L686.7 524.3 L684.7 524.6 L682.2 522.6 L680.1 520.5 L677.8 520.3 L675.5 519.5 L673.3 518.7 L671.3 518.0 L667.8 518.5 L666.7 520.3 L666.2 522.6 L663.8 522.6 L661.1 522.1 L658.6 523.4 L656.5 524.1 L655.4 526.6 L654.9 529.3 L652.9 526.2 L651.6 524.0 L650.8 522.1 L647.2 521.6 L647.2 519.4 L648.3 517.0 L648.0 515.2 L646.7 513.4 L649.0 512.2 L651.8 511.3 L655.4 512.3 L657.0 510.6 L659.0 508.7 L661.1 508.5 L663.1 507.2 L663.7 504.6 L664.2 502.6 L662.1 499.5 L659.5 498.0 L657.0 496.2 L657.4 493.8 L657.4 490.8 L658.5 488.3 L659.0 485.7 L661.3 483.9 L664.1 482.6 L662.2 481.0 L660.5 479.0 L657.4 477.0 L659.9 476.4 L662.1 475.9 L664.7 475.7 L667.7 476.5 L670.3 475.9 L672.6 475.9Z" fill="#20d5d5"/>
<path d="M646.2 490.6 L648.3 491.5 L650.0 492.5 L651.8 493.9 L654.4 495.5 L657.0 496.2 L659.5 498.0 L662.1 499.5 L664.2 502.6 L663.7 504.6 L663.1 507.2 L661.1 508.5 L659.0 508.7 L657.0 510.6 L655.4 512.3 L651.8 511.3 L649.0 512.2 L646.7 513.4 L648.0 515.2 L648.3 517.0 L647.2 519.4 L647.2 521.6 L650.8 522.1 L651.6 524.0 L652.9 526.2 L654.9 529.3 L654.7 532.1 L655.4 535.4 L654.7 538.2 L654.7 540.6 L651.8 542.6 L650.4 540.6 L648.7 539.6 L647.7 537.5 L647.4 535.2 L646.6 532.7 L645.7 530.8 L643.6 531.3 L641.1 531.3 L639.0 531.0 L637.0 530.1 L635.3 531.9 L633.9 534.4 L631.8 535.9 L630.7 537.6 L629.3 539.3 L626.9 538.7 L624.6 537.0 L623.1 534.4 L620.5 532.3 L619.1 530.7 L618.5 528.2 L617.0 527.3 L615.9 525.2 L618.0 523.3 L619.5 520.5 L618.5 518.6 L618.5 516.4 L621.1 513.9 L623.2 514.5 L625.2 515.4 L628.2 515.9 L630.8 518.5 L632.6 517.4 L634.4 516.4 L635.2 514.0 L636.5 511.8 L637.1 510.2 L638.0 508.2 L639.8 506.9 L641.6 506.7 L641.9 504.3 L643.1 502.1 L643.8 499.7 L645.2 498.0 L647.7 495.4 L647.3 493.0 L646.2 490.6Z" fill="#40dad0"/>
<path d="M537.4 486.0 L537.1 483.7 L536.9 481.5 L537.0 479.3 L537.2 476.9 L538.1 474.2 L538.5 472.0 L539.4 469.2 L539.3 466.4 L540.6 464.7 L542.5 463.3 L545.1 464.1 L546.9 465.7 L548.2 467.9 L548.8 470.4 L550.4 472.9 L552.0 476.0 L554.7 477.3 L556.8 479.1 L559.3 479.6 L561.5 480.7 L562.8 482.2 L564.7 483.9 L567.0 484.3 L569.4 484.7 L571.4 483.6 L573.4 482.3 L573.9 480.1 L574.2 477.5 L576.7 477.5 L579.0 476.8 L580.2 476.0 L582.9 475.2 L584.3 472.7 L586.1 471.2 L585.3 468.0 L587.0 466.0 L589.3 464.1 L592.4 463.3 L593.7 465.8 L594.8 468.0 L597.3 468.9 L599.6 468.8 L601.2 470.1 L603.5 471.2 L605.4 472.7 L606.7 475.2 L607.0 478.3 L607.5 481.5 L610.3 481.9 L613.1 483.1 L615.0 481.7 L617.0 480.7 L619.0 480.6 L621.0 479.6 L621.1 483.1 L623.8 483.7 L626.2 483.6 L629.1 484.1 L632.3 484.1 L633.6 485.8 L635.4 486.7 L638.1 487.6 L640.6 488.7 L643.6 490.3 L646.2 490.6 L647.3 493.0 L647.7 495.4 L645.2 498.0 L643.8 499.7 L643.1 502.1 L641.9 504.3 L641.6 506.7 L639.8 506.9 L638.0 508.2 L637.1 510.2 L636.5 511.8 L635.2 514.0 L634.4 516.4 L632.6 517.4 L630.8 518.5 L628.2 515.9 L625.2 515.4 L623.2 514.5 L621.1 513.9 L618.5 516.4 L618.5 518.6 L619.5 520.5 L618.0 523.3 L615.9 525.2 L617.0 527.3 L618.5 528.2 L619.1 530.7 L620.5 532.3 L623.1 534.4 L624.6 537.0 L621.1 537.5 L619.5 539.5 L621.6 542.6 L623.7 543.8 L625.2 545.2 L625.4 547.7 L623.1 548.3 L621.1 549.2 L619.0 549.8 L615.4 548.8 L614.3 547.0 L613.9 544.7 L611.9 546.3 L609.8 547.2 L606.7 545.7 L606.4 543.6 L607.2 541.6 L606.4 539.2 L605.1 537.0 L602.9 536.7 L601.0 537.0 L600.1 539.4 L600.0 541.6 L598.6 543.3 L596.9 545.2 L596.8 547.5 L595.9 549.8 L593.8 551.8 L591.8 553.9 L591.6 556.7 L592.3 559.5 L592.2 562.5 L592.8 565.2 L591.0 566.4 L589.2 568.3 L586.2 567.8 L584.8 569.5 L583.6 570.8 L582.9 571.2 L581.4 569.2 L579.8 568.0 L579.2 565.4 L578.2 562.5 L576.3 560.4 L575.3 558.6 L574.2 556.1 L573.7 553.9 L571.6 551.9 L571.0 549.8 L569.3 548.3 L567.9 546.6 L565.9 545.0 L564.7 543.4 L562.8 540.7 L561.5 537.9 L560.0 536.6 L559.1 534.7 L557.3 536.9 L556.5 539.3 L555.2 541.9 L554.4 538.8 L555.1 535.8 L554.4 533.1 L554.1 531.3 L554.4 529.2 L554.7 526.8 L554.0 524.6 L554.2 522.1 L553.6 519.7 L553.7 516.6 L553.1 514.0 L552.3 511.3 L552.0 508.6 L551.3 505.9 L550.4 503.8 L552.0 501.4 L549.6 499.8 L549.1 496.8 L548.2 494.4 L547.2 491.9 L545.8 489.2 L544.1 486.3 L541.9 485.8 L539.6 486.5 L537.4 486.0Z" fill="#7adba5"/>
<path d="M654.9 529.3 L655.4 526.6 L656.5 524.1 L658.6 523.4 L661.1 522.1 L663.8 522.6 L666.2 522.6 L666.7 520.3 L667.8 518.5 L671.3 518.0 L673.3 518.7 L675.5 519.5 L677.8 520.3 L680.1 520.5 L682.2 522.6 L684.7 524.6 L686.7 524.3 L688.8 523.1 L691.4 522.1 L692.9 525.2 L695.0 523.3 L697.0 521.1 L697.9 523.2 L699.1 525.2 L700.3 527.4 L700.9 530.3 L701.7 532.6 L702.8 535.1 L703.4 538.2 L704.0 541.0 L702.6 542.5 L701.7 544.5 L700.6 547.0 L698.7 549.1 L699.4 552.2 L699.3 555.0 L700.1 557.6 L701.1 560.8 L700.8 563.6 L701.7 566.6 L702.1 568.8 L702.2 571.3 L702.3 568.5 L702.0 565.7 L701.7 562.7 L700.9 560.0 L701.9 562.5 L702.6 564.7 L702.1 566.8 L702.0 569.3 L702.5 571.5 L703.2 574.0 L702.5 577.3 L701.2 580.1 L698.0 579.6 L695.4 579.7 L693.3 579.2 L692.9 581.2 L691.6 583.0 L690.4 585.1 L688.6 582.2 L686.5 583.0 L684.0 583.3 L683.4 585.6 L682.8 588.0 L680.5 587.6 L678.1 587.4 L677.4 585.4 L677.0 583.3 L675.2 584.1 L672.9 584.1 L673.8 581.8 L673.8 579.5 L674.6 577.5 L674.9 575.7 L676.4 574.0 L675.9 571.6 L675.3 569.4 L674.6 567.6 L672.4 567.7 L670.0 568.2 L667.1 570.5 L663.6 569.9 L660.6 571.7 L658.6 570.9 L657.2 569.5 L656.5 566.2 L657.0 563.8 L657.5 561.1 L656.2 559.0 L654.9 557.5 L653.1 557.8 L650.8 558.0 L651.8 556.0 L653.9 553.6 L656.0 551.8 L656.1 548.7 L656.5 545.7 L655.1 543.3 L654.7 540.6 L654.7 538.2 L655.4 535.4 L654.7 532.1 L654.9 529.3Z" fill="#22dbef"/>
<path d="M742.1 527.6 L740.4 526.6 L739.0 524.6 L736.9 522.9 L734.3 521.1 L732.7 522.3 L730.8 523.5 L728.5 522.9 L729.7 519.4 L726.2 518.8 L724.3 519.8 L723.0 521.4 L720.4 522.3 L718.0 522.9 L715.5 523.2 L713.3 524.6 L710.6 525.5 L708.7 527.0 L706.6 527.6 L704.0 528.1 L700.9 530.3 L701.7 532.6 L702.8 535.1 L703.4 538.2 L704.0 541.0 L702.6 542.5 L701.7 544.5 L700.6 547.0 L698.7 549.1 L699.4 552.2 L699.3 555.0 L700.1 557.6 L701.1 560.8 L700.8 563.6 L701.7 566.6 L702.1 568.8 L702.2 571.3 L702.3 568.5 L702.0 565.7 L701.7 562.7 L700.9 560.0 L701.9 562.5 L702.6 564.7 L702.1 566.8 L702.0 569.3 L702.5 571.5 L703.2 574.0 L702.5 577.3 L701.2 580.1 L705.0 581.0 L708.5 581.6 L707.6 583.3 L707.3 585.7 L705.6 587.4 L704.4 589.2 L706.1 591.5 L708.8 590.2 L712.0 589.7 L714.5 588.9 L716.6 588.0 L718.6 586.8 L720.3 586.4 L721.4 584.0 L721.7 581.8 L721.9 579.8 L723.0 577.2 L724.2 574.0 L724.3 571.6 L725.9 569.3 L725.9 567.0 L727.0 564.6 L727.6 562.2 L728.3 560.0 L727.9 562.6 L726.7 565.7 L726.3 568.4 L725.6 571.3 L726.8 569.4 L727.3 566.6 L727.4 563.9 L727.9 560.8 L729.3 558.3 L730.2 556.1 L730.5 553.3 L732.0 550.3 L734.3 548.8 L736.1 546.8 L737.9 545.8 L740.1 545.6 L742.5 544.3 L744.8 543.3 L747.0 543.4 L748.9 542.7 L746.6 541.0 L746.3 538.8 L746.0 536.3 L744.6 534.2 L743.6 531.6 L743.1 529.4 L742.1 527.6Z" fill="#44dacf"/>
<path d="M748.9 542.7 L749.3 544.8 L750.6 546.8 L751.6 549.3 L753.0 552.0 L755.0 551.0 L757.1 550.3 L758.1 552.3 L760.0 553.8 L762.3 553.3 L764.6 553.8 L767.0 555.0 L765.7 556.8 L764.6 558.5 L763.0 560.5 L761.1 562.0 L760.3 564.2 L758.8 566.6 L758.3 569.3 L758.3 572.1 L757.6 575.0 L760.0 576.3 L758.7 577.9 L756.6 579.5 L755.1 581.0 L753.1 582.9 L752.4 585.0 L750.4 586.8 L748.6 588.5 L747.2 589.7 L745.2 591.2 L743.4 592.7 L741.9 594.8 L740.3 596.6 L739.2 599.2 L737.6 600.8 L736.9 602.7 L735.3 604.1 L733.7 602.6 L732.4 600.8 L731.8 598.2 L730.6 596.2 L730.6 593.8 L729.4 591.1 L728.3 588.6 L725.8 587.8 L723.1 586.7 L720.3 586.4 L721.4 584.0 L721.7 581.8 L721.9 579.8 L723.0 577.2 L724.2 574.0 L724.3 571.6 L725.9 569.3 L725.9 567.0 L727.0 564.6 L727.6 562.2 L728.3 560.0 L727.9 562.6 L726.7 565.7 L726.3 568.4 L725.6 571.3 L726.8 569.4 L727.3 566.6 L727.4 563.9 L727.9 560.8 L729.3 558.3 L730.2 556.1 L730.5 553.3 L732.0 550.3 L734.3 548.8 L736.1 546.8 L737.9 545.8 L740.1 545.6 L742.5 544.3 L744.8 543.3 L747.0 543.4 L748.9 542.7Z" fill="#1cdbf4"/>
<path d="M624.6 537.0 L621.1 537.5 L619.5 539.5 L621.6 542.6 L623.7 543.8 L625.2 545.2 L625.4 547.7 L623.1 548.3 L621.1 549.2 L619.0 549.8 L615.4 548.8 L615.9 551.3 L614.1 552.2 L611.8 553.4 L609.3 553.5 L606.7 553.9 L604.4 553.4 L602.1 553.1 L600.7 555.9 L599.0 558.0 L599.9 560.6 L600.5 563.1 L602.8 562.7 L605.7 562.9 L607.6 564.5 L609.3 566.2 L608.5 569.2 L607.5 572.4 L606.5 574.5 L605.7 576.5 L607.0 579.0 L609.3 581.6 L610.1 584.0 L610.3 586.7 L609.1 590.2 L611.7 587.4 L614.6 588.1 L617.5 588.0 L620.5 587.3 L623.3 586.2 L625.7 584.5 L628.6 583.3 L631.0 582.3 L633.2 581.6 L635.0 578.7 L636.7 579.7 L638.5 581.5 L639.7 583.3 L641.9 582.0 L644.3 581.6 L646.7 580.9 L649.0 579.8 L650.1 578.1 L651.3 576.3 L652.8 575.0 L654.8 574.0 L655.7 571.5 L657.2 569.5 L656.5 566.2 L657.0 563.8 L657.5 561.1 L656.2 559.0 L654.9 557.5 L653.1 557.8 L650.8 558.0 L651.8 556.0 L653.9 553.6 L656.0 551.8 L656.1 548.7 L656.5 545.7 L655.1 543.3 L654.7 540.6 L651.8 542.6 L650.4 540.6 L648.7 539.6 L647.7 537.5 L647.4 535.2 L646.6 532.7 L645.7 530.8 L643.6 531.3 L641.1 531.3 L639.0 531.0 L637.0 530.1 L635.3 531.9 L633.9 534.4 L631.8 535.9 L630.7 537.6 L629.3 539.3 L626.9 538.7 L624.6 537.0Z" fill="#5fdabc"/>
<path d="M554.4 533.1 L551.2 533.1 L550.4 536.3 L550.4 538.6 L549.6 541.1 L547.3 541.7 L545.7 543.0 L545.6 545.1 L546.9 547.7 L547.2 549.8 L548.6 551.5 L550.4 553.0 L550.8 555.5 L550.2 557.5 L550.0 560.1 L550.4 562.5 L550.1 564.9 L549.8 567.3 L549.6 569.6 L549.6 572.0 L547.2 574.3 L545.7 576.8 L545.0 579.2 L543.3 581.5 L542.4 583.6 L540.5 585.4 L539.3 587.9 L540.3 589.8 L540.4 592.3 L540.9 594.2 L540.3 596.8 L539.3 599.0 L541.7 598.6 L543.5 597.6 L545.7 597.4 L549.0 597.1 L552.0 596.6 L551.8 599.3 L551.2 602.1 L553.1 604.4 L555.2 606.9 L556.2 609.3 L557.3 610.9 L558.3 613.2 L557.2 615.3 L557.2 617.7 L555.5 619.6 L555.2 622.0 L557.5 622.7 L559.5 623.9 L561.5 624.3 L563.2 627.0 L564.7 629.9 L567.5 629.1 L569.8 629.1 L572.6 628.3 L574.0 631.5 L575.8 633.9 L578.1 634.3 L580.5 635.4 L581.1 632.4 L580.5 629.1 L579.3 626.9 L579.0 625.1 L578.2 622.8 L579.6 620.8 L580.5 618.8 L582.9 618.8 L584.7 617.6 L586.9 617.2 L588.5 614.8 L590.9 614.9 L592.7 615.4 L594.8 616.4 L597.3 615.3 L599.6 614.0 L602.2 614.5 L604.3 614.8 L606.6 612.8 L609.1 611.7 L611.1 610.0 L613.1 609.3 L615.5 608.5 L618.6 608.2 L620.9 605.9 L623.3 604.3 L623.5 602.1 L624.5 599.7 L622.2 597.3 L619.9 596.8 L617.8 596.7 L615.7 596.2 L615.3 594.2 L614.0 592.7 L611.3 591.9 L609.1 590.2 L610.3 586.7 L610.1 584.0 L609.3 581.6 L607.0 579.0 L605.7 576.5 L606.5 574.5 L607.5 572.4 L608.5 569.2 L609.3 566.2 L607.6 564.5 L605.7 562.9 L602.8 562.7 L600.5 563.1 L599.9 560.6 L599.0 558.0 L600.7 555.9 L602.1 553.1 L604.4 553.4 L606.7 553.9 L609.3 553.5 L611.8 553.4 L614.1 552.2 L615.9 551.3 L615.4 548.8 L614.3 547.0 L613.9 544.7 L611.9 546.3 L609.8 547.2 L606.7 545.7 L606.4 543.6 L607.2 541.6 L606.4 539.2 L605.1 537.0 L602.9 536.7 L601.0 537.0 L600.1 539.4 L600.0 541.6 L598.6 543.3 L596.9 545.2 L596.8 547.5 L595.9 549.8 L593.8 551.8 L591.8 553.9 L591.6 556.7 L592.3 559.5 L592.2 562.5 L592.8 565.2 L591.0 566.4 L589.2 568.3 L586.2 567.8 L584.8 569.5 L583.6 570.8 L582.9 571.2 L581.4 569.2 L579.8 568.0 L579.2 565.4 L578.2 562.5 L576.3 560.4 L575.3 558.6 L574.2 556.1 L573.7 553.9 L571.6 551.9 L571.0 549.8 L569.3 548.3 L567.9 546.6 L565.9 545.0 L564.7 543.4 L562.8 540.7 L561.5 537.9 L560.0 536.6 L559.1 534.7 L557.3 536.9 L556.5 539.3 L555.2 541.9 L554.4 538.8 L555.1 535.8 L554.4 533.1Z" fill="#7adba5"/>
<path d="M618.6 608.2 L620.9 605.9 L623.3 604.3 L623.5 602.1 L624.5 599.7 L622.2 597.3 L619.9 596.8 L617.8 596.7 L615.7 596.2 L615.3 594.2 L614.0 592.7 L611.3 591.9 L609.1 590.2 L611.7 587.4 L614.6 588.1 L617.5 588.0 L620.5 587.3 L623.3 586.2 L625.7 584.5 L628.6 583.3 L631.0 582.3 L633.2 581.6 L635.0 578.7 L636.7 579.7 L638.5 581.5 L639.7 583.3 L641.9 582.0 L644.3 581.6 L646.7 580.9 L649.0 579.8 L650.1 578.1 L651.3 576.3 L652.8 575.0 L654.8 574.0 L655.7 571.5 L657.2 569.5 L658.6 570.9 L660.6 571.7 L663.6 569.9 L667.1 570.5 L670.0 568.2 L672.4 567.7 L674.6 567.6 L675.3 569.4 L675.9 571.6 L676.4 574.0 L674.9 575.7 L674.6 577.5 L673.8 579.5 L673.8 581.8 L672.9 584.1 L674.6 585.1 L675.9 586.5 L676.4 588.6 L679.3 590.9 L681.0 592.3 L682.2 593.8 L681.0 595.8 L680.5 598.5 L678.6 600.4 L677.5 602.3 L676.4 604.3 L677.1 606.9 L677.0 609.0 L676.0 611.5 L674.6 613.6 L672.6 615.8 L671.1 618.3 L669.3 619.6 L667.6 620.6 L666.5 622.7 L665.3 624.7 L663.2 627.2 L660.4 628.8 L658.3 630.0 L656.2 630.6 L653.6 631.7 L651.0 631.0 L649.0 630.0 L646.4 630.8 L644.3 631.1 L642.2 630.7 L639.7 630.0 L637.0 629.8 L635.0 628.8 L632.9 626.4 L630.9 624.1 L629.6 621.8 L628.0 619.5 L628.7 617.3 L628.6 614.8 L625.7 613.2 L623.3 611.3 L620.6 610.1 L618.6 608.2Z" fill="#d6d948"/>
<path d="M660.4 628.8 L663.2 627.2 L665.3 624.7 L666.5 622.7 L667.6 620.6 L669.3 619.6 L671.1 618.3 L672.6 615.8 L674.6 613.6 L676.0 611.5 L677.0 609.0 L677.1 606.9 L676.4 604.3 L677.5 602.3 L678.6 600.4 L680.5 598.5 L681.0 595.8 L682.2 593.8 L681.0 592.3 L679.3 590.9 L676.4 588.6 L675.9 586.5 L674.6 585.1 L672.9 584.1 L675.2 584.1 L677.0 583.3 L677.4 585.4 L678.1 587.4 L680.5 587.6 L682.8 588.0 L683.4 585.6 L684.0 583.3 L686.5 583.0 L688.6 582.2 L690.4 585.1 L691.6 583.0 L692.9 581.2 L693.3 579.2 L695.4 579.7 L698.0 579.6 L701.2 580.1 L705.0 581.0 L708.5 581.6 L707.6 583.3 L707.3 585.7 L705.6 587.4 L704.4 589.2 L706.1 591.5 L708.8 590.2 L712.0 589.7 L714.5 588.9 L716.6 588.0 L718.6 586.8 L720.3 586.4 L723.1 586.7 L725.8 587.8 L728.3 588.6 L729.4 591.1 L730.6 593.8 L730.6 596.2 L731.8 598.2 L732.4 600.8 L733.7 602.6 L735.3 604.1 L734.1 604.9 L732.2 606.1 L730.1 607.6 L728.3 609.0 L726.1 610.1 L723.6 611.3 L721.5 612.4 L718.9 612.6 L716.6 613.6 L714.7 614.8 L711.9 615.2 L709.6 616.0 L707.4 617.3 L705.0 618.3 L702.6 620.6 L700.8 618.3 L699.1 616.0 L698.5 618.2 L697.2 620.5 L696.8 623.0 L694.5 623.9 L692.1 625.3 L689.2 626.0 L686.3 627.6 L683.9 628.8 L681.8 629.0 L679.3 630.0 L677.1 631.0 L674.3 631.1 L672.3 632.3 L670.1 634.3 L667.1 635.8 L665.8 638.0 L665.3 640.5 L666.7 641.8 L667.6 644.0 L665.9 646.9 L663.8 646.8 L661.8 646.9 L661.4 644.8 L660.1 642.8 L659.2 640.3 L658.3 638.1 L659.2 635.9 L659.5 633.5 L659.5 631.2 L660.4 628.8Z" fill="#22dbef"/>
<path d="M650.1 660.3 L651.8 658.4 L653.5 656.1 L654.8 653.3 L657.8 652.5 L660.6 651.0 L663.5 650.9 L666.4 649.8 L669.4 649.8 L671.5 652.1 L672.9 654.5 L671.6 656.8 L671.3 659.3 L670.0 661.5 L668.8 664.6 L667.6 667.3 L665.5 668.5 L663.5 670.1 L661.8 672.0 L660.3 674.3 L658.3 675.5 L655.9 674.8 L654.2 673.8 L652.5 672.5 L651.1 670.3 L649.0 668.5 L649.4 665.6 L648.7 662.6 L650.1 660.3Z" fill="#e5d93c"/>
<path d="M776.7 580.9 L779.1 582.8 L780.9 584.8 L780.4 587.5 L780.2 590.6 L779.5 593.2 L778.9 595.6 L778.5 598.0 L777.5 600.1 L776.8 602.5 L776.5 604.9 L776.0 607.2 L775.1 609.5 L774.5 611.7 L773.0 613.9 L772.8 616.1 L771.8 618.4 L770.7 620.8 L769.5 623.4 L769.0 625.7 L768.3 622.8 L766.9 619.8 L765.8 617.2 L764.9 614.6 L762.9 612.9 L762.0 610.0 L762.3 607.5 L763.0 605.0 L763.7 602.6 L764.1 600.2 L765.2 597.6 L766.3 594.4 L767.6 591.8 L768.8 589.1 L770.5 587.2 L771.8 584.8 L774.0 582.5 L776.7 580.9Z" fill="#d5d947"/>
</g><polygon points="820.5,588.3 825.0,585.1 881.7,585.1 881.7,673.3 820.5,673.3" fill="none" stroke="#bcbcbc" stroke-width="2"/>
<polyline points="822.9,590.4 826.4,592.9 832.0,593.6 836.2,593.2 840.4,592.9 846.0,591.5 848.1,589.3 851.6,590.1 855.8,589.0 860.0,586.9 864.2,588.3 868.4,586.2 871.2,588.3 874.0,590.4 876.8,592.5 879.6,587.6 881.2,585.5" fill="none" stroke="#bcbcbc" stroke-width="1.1"/>
<polygon points="832.0,601.6 836.2,599.1 839.0,599.5 838.3,603.7 836.2,607.2 832.7,607.9 830.6,605.1 832.0,601.6" fill="none" stroke="#bcbcbc" stroke-width="1.1"/>
<line x1="832.7" y1="615.6" x2="834.8" y2="622.6" stroke="#bcbcbc" stroke-width="1.7"/>
<line x1="834.1" y1="628.9" x2="831.3" y2="635.9" stroke="#bcbcbc" stroke-width="1.7"/>
<line x1="828.1" y1="645.7" x2="829.2" y2="652.0" stroke="#bcbcbc" stroke-width="1.7"/>
<line x1="841.1" y1="664.3" x2="847.4" y2="660.7" stroke="#bcbcbc" stroke-width="1.7"/>
<line x1="856.9" y1="650.9" x2="861.6" y2="644.3" stroke="#bcbcbc" stroke-width="1.7"/>
<line x1="866.3" y1="634.1" x2="870.5" y2="627.5" stroke="#bcbcbc" stroke-width="1.7"/>
<line x1="869.8" y1="618.4" x2="870.0" y2="611.4" stroke="#bcbcbc" stroke-width="1.7"/>
<line x1="871.2" y1="605.8" x2="874.7" y2="600.2" stroke="#bcbcbc" stroke-width="1.7"/>
<line x1="877.5" y1="596.7" x2="880.7" y2="590.4" stroke="#bcbcbc" stroke-width="1.7"/>
<line x1="851.6" y1="620.5" x2="854.7" y2="623.7" stroke="#bcbcbc" stroke-width="1.7"/>
<line x1="840.7" y1="615.3" x2="845.3" y2="612.5" stroke="#bcbcbc" stroke-width="1.7"/>
<line x1="862.1" y1="590.4" x2="864.9" y2="592.9" stroke="#bcbcbc" stroke-width="1.7"/>
<circle cx="835.5" cy="596.0" r="1.1" fill="#bcbcbc"/>
<circle cx="842.1" cy="610.7" r="1.1" fill="#bcbcbc"/>
<circle cx="864.4" cy="615.6" r="1.1" fill="#bcbcbc"/>
<circle cx="851.3" cy="635.5" r="1.1" fill="#bcbcbc"/>
<circle cx="855.5" cy="638.4" r="1.1" fill="#bcbcbc"/>
<circle cx="851.6" cy="640.4" r="1.1" fill="#bcbcbc"/>
<circle cx="860.0" cy="640.4" r="1.1" fill="#bcbcbc"/>
<circle cx="862.5" cy="635.9" r="1.1" fill="#bcbcbc"/>
<circle cx="847.8" cy="644.3" r="1.1" fill="#bcbcbc"/>
<circle cx="842.1" cy="647.8" r="1.1" fill="#bcbcbc"/>
<circle cx="833.4" cy="645.0" r="1.1" fill="#bcbcbc"/>
<circle cx="850.9" cy="650.6" r="1.1" fill="#bcbcbc"/>
<circle cx="845.3" cy="654.8" r="1.1" fill="#bcbcbc"/>
<circle cx="841.5" cy="663.2" r="1.1" fill="#bcbcbc"/>
<line x1="785.8" y1="591.1" x2="785.8" y2="605.1" stroke="#bcbcbc" stroke-width="1.5"/>
<line x1="780.2" y1="626.8" x2="773.9" y2="640.8" stroke="#bcbcbc" stroke-width="1.5"/>
<line x1="764.5" y1="658.3" x2="757.5" y2="673.7" stroke="#bcbcbc" stroke-width="1.5"/>
<circle cx="796.3" cy="574.3" r="1.3" fill="#bcbcbc"/>
<circle cx="807.9" cy="574.0" r="1.2" fill="#bcbcbc"/>
<circle cx="756.8" cy="604.0" r="1.6" fill="#bcbcbc"/>
<circle cx="732.9" cy="629.6" r="1.7" fill="#bcbcbc"/>
<circle cx="730.1" cy="637.3" r="1.4" fill="#bcbcbc"/>
<circle cx="741.0" cy="638.3" r="1.3" fill="#bcbcbc"/>
<circle cx="776.7" cy="624.0" r="1.0" fill="#bcbcbc"/>
<circle cx="771.8" cy="552.6" r="1.0" fill="#bcbcbc"/>
<circle cx="765.5" cy="566.6" r="0.9" fill="#bcbcbc"/>
<circle cx="782.4" cy="510.6" r="1.6" fill="#bcbcbc"/>
<circle cx="783.9" cy="513.6" r="2.2" fill="#bcbcbc"/>
<circle cx="783.1" cy="516.7" r="2.4" fill="#bcbcbc"/>
<circle cx="785.0" cy="515.3" r="1.8" fill="#bcbcbc"/>
<circle cx="782.1" cy="520.0" r="2.2" fill="#bcbcbc"/>
<circle cx="784.2" cy="521.1" r="1.6" fill="#bcbcbc"/>
<circle cx="786.3" cy="509.7" r="1.1" fill="#bcbcbc"/>
<circle cx="788.9" cy="509.5" r="1.0" fill="#bcbcbc"/>
<circle cx="787.7" cy="516.5" r="0.9" fill="#bcbcbc"/>
<circle cx="783.3" cy="526.4" r="0.9" fill="#bcbcbc"/>
<circle cx="780.0" cy="539.2" r="0.9" fill="#bcbcbc"/>
<circle cx="772.2" cy="552.6" r="1.0" fill="#bcbcbc"/>
<circle cx="765.8" cy="566.6" r="1.0" fill="#bcbcbc"/><defs><linearGradient id="vm" x1="0" y1="0" x2="0" y2="1"><stop offset="0" stop-color="#3bbf69"/><stop offset=".5" stop-color="#19dbf7"/><stop offset="1" stop-color="#ffd92e"/></linearGradient></defs>
<rect x="143.3" y="372.6" width="29.6" height="212.6" fill="url(#vm)"/>
<line x1="137.6" x2="143.5" y1="372.9" y2="372.9" stroke="#555" stroke-width="1.1"/>
<line x1="140.2" x2="143.5" y1="394.1" y2="394.1" stroke="#555" stroke-width="1.1"/>
<line x1="137.6" x2="143.5" y1="415.3" y2="415.3" stroke="#555" stroke-width="1.1"/>
<line x1="140.2" x2="143.5" y1="436.5" y2="436.5" stroke="#555" stroke-width="1.1"/>
<line x1="137.6" x2="143.5" y1="457.7" y2="457.7" stroke="#555" stroke-width="1.1"/>
<line x1="140.2" x2="143.5" y1="478.9" y2="478.9" stroke="#555" stroke-width="1.1"/>
<line x1="137.6" x2="143.5" y1="500.1" y2="500.1" stroke="#555" stroke-width="1.1"/>
<line x1="140.2" x2="143.5" y1="521.3" y2="521.3" stroke="#555" stroke-width="1.1"/>
<line x1="137.6" x2="143.5" y1="542.5" y2="542.5" stroke="#555" stroke-width="1.1"/>
<line x1="140.2" x2="143.5" y1="563.7" y2="563.7" stroke="#555" stroke-width="1.1"/>
<line x1="137.6" x2="143.5" y1="584.9" y2="584.9" stroke="#555" stroke-width="1.1"/>
<polygon points="172.9,373.2 193.9,353.2 193.9,373.2" fill="#3bbf69"/>
<polygon points="172.9,584.7 193.9,584.7 193.9,604.9" fill="#ffd92e"/>
<text x="195.8" y="368.3" font-size="18" fill="#383838" style="font-family:'Liberation Sans',sans-serif">77.00</text>
<text x="195.8" y="600.4" font-size="18" fill="#383838" style="font-family:'Liberation Sans',sans-serif">46.00</text>
<text x="142.8" y="613.3" font-size="18" fill="#383838">亿元</text></svg>
</body></html>
